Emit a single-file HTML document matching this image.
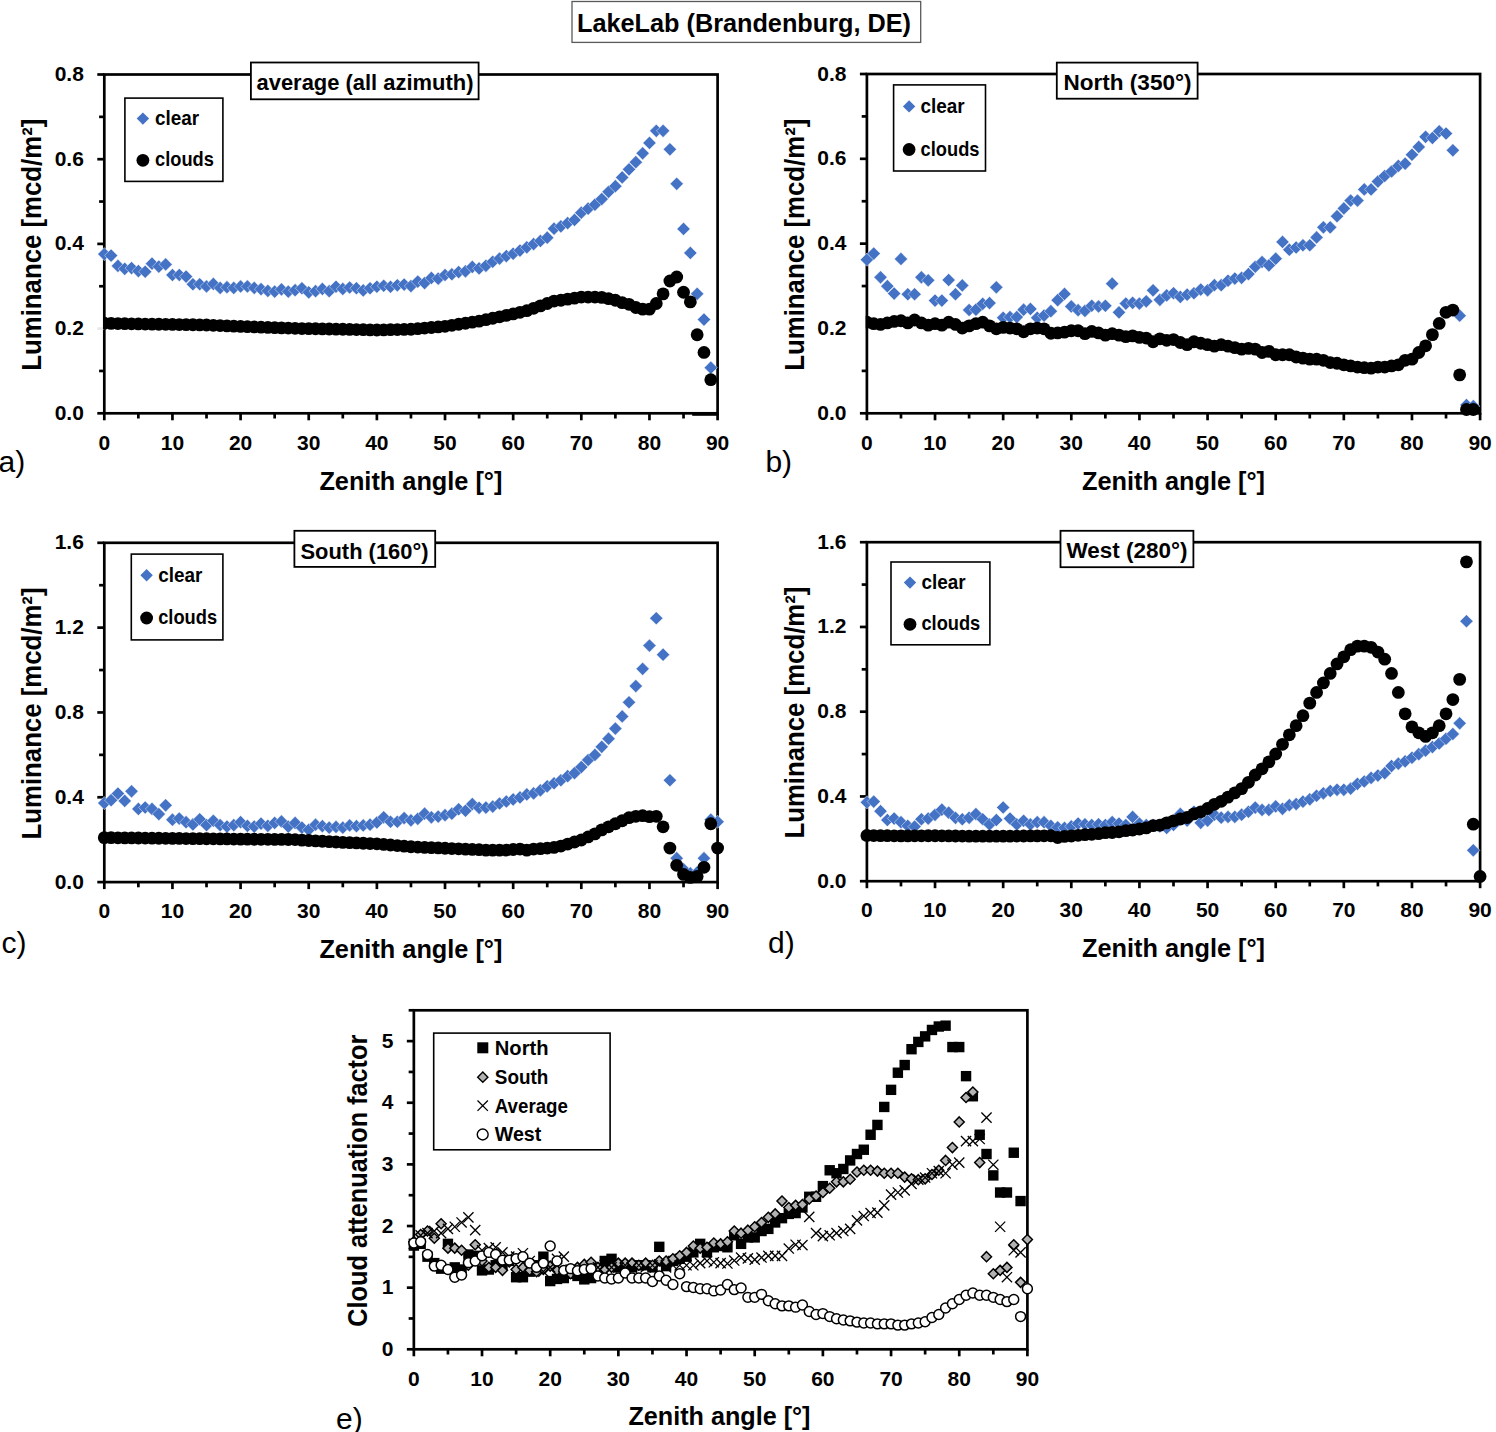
<!DOCTYPE html><html><head><meta charset="utf-8"><style>html,body{margin:0;padding:0;background:#fff;overflow:hidden}svg{display:block}</style></head><body><svg width="1496" height="1432" viewBox="0 0 1496 1432">
<rect width="1496" height="1432" fill="#fff"/>
<defs><clipPath id="clipa"><rect x="103.1" y="0" width="700" height="1432"/></clipPath><clipPath id="clipb"><rect x="865.7" y="0" width="700" height="1432"/></clipPath></defs>
<rect x="572" y="1.5" width="348.7" height="40.9" fill="#fff" stroke="#595959" stroke-width="1.3"/>
<text x="577" y="31.7" font-family="Liberation Sans, sans-serif" font-weight="bold" font-size="25.7" textLength="334" lengthAdjust="spacingAndGlyphs">LakeLab (Brandenburg, DE)</text>
<rect x="104.3" y="74.5" width="613.3" height="338.8" fill="none" stroke="#000" stroke-width="2.7"/>
<line x1="104.3" y1="413.3" x2="104.3" y2="420.3" stroke="#000" stroke-width="2.7"/>
<text x="104.3" y="449.5" font-family="Liberation Sans, sans-serif" font-weight="bold" font-size="21" text-anchor="middle">0</text>
<line x1="138.37" y1="413.3" x2="138.37" y2="418.5" stroke="#000" stroke-width="2.7"/>
<line x1="172.44" y1="413.3" x2="172.44" y2="420.3" stroke="#000" stroke-width="2.7"/>
<text x="172.44" y="449.5" font-family="Liberation Sans, sans-serif" font-weight="bold" font-size="21" text-anchor="middle">10</text>
<line x1="206.52" y1="413.3" x2="206.52" y2="418.5" stroke="#000" stroke-width="2.7"/>
<line x1="240.59" y1="413.3" x2="240.59" y2="420.3" stroke="#000" stroke-width="2.7"/>
<text x="240.59" y="449.5" font-family="Liberation Sans, sans-serif" font-weight="bold" font-size="21" text-anchor="middle">20</text>
<line x1="274.66" y1="413.3" x2="274.66" y2="418.5" stroke="#000" stroke-width="2.7"/>
<line x1="308.73" y1="413.3" x2="308.73" y2="420.3" stroke="#000" stroke-width="2.7"/>
<text x="308.73" y="449.5" font-family="Liberation Sans, sans-serif" font-weight="bold" font-size="21" text-anchor="middle">30</text>
<line x1="342.81" y1="413.3" x2="342.81" y2="418.5" stroke="#000" stroke-width="2.7"/>
<line x1="376.88" y1="413.3" x2="376.88" y2="420.3" stroke="#000" stroke-width="2.7"/>
<text x="376.88" y="449.5" font-family="Liberation Sans, sans-serif" font-weight="bold" font-size="21" text-anchor="middle">40</text>
<line x1="410.95" y1="413.3" x2="410.95" y2="418.5" stroke="#000" stroke-width="2.7"/>
<line x1="445.02" y1="413.3" x2="445.02" y2="420.3" stroke="#000" stroke-width="2.7"/>
<text x="445.02" y="449.5" font-family="Liberation Sans, sans-serif" font-weight="bold" font-size="21" text-anchor="middle">50</text>
<line x1="479.09" y1="413.3" x2="479.09" y2="418.5" stroke="#000" stroke-width="2.7"/>
<line x1="513.17" y1="413.3" x2="513.17" y2="420.3" stroke="#000" stroke-width="2.7"/>
<text x="513.17" y="449.5" font-family="Liberation Sans, sans-serif" font-weight="bold" font-size="21" text-anchor="middle">60</text>
<line x1="547.24" y1="413.3" x2="547.24" y2="418.5" stroke="#000" stroke-width="2.7"/>
<line x1="581.31" y1="413.3" x2="581.31" y2="420.3" stroke="#000" stroke-width="2.7"/>
<text x="581.31" y="449.5" font-family="Liberation Sans, sans-serif" font-weight="bold" font-size="21" text-anchor="middle">70</text>
<line x1="615.38" y1="413.3" x2="615.38" y2="418.5" stroke="#000" stroke-width="2.7"/>
<line x1="649.46" y1="413.3" x2="649.46" y2="420.3" stroke="#000" stroke-width="2.7"/>
<text x="649.46" y="449.5" font-family="Liberation Sans, sans-serif" font-weight="bold" font-size="21" text-anchor="middle">80</text>
<line x1="683.53" y1="413.3" x2="683.53" y2="418.5" stroke="#000" stroke-width="2.7"/>
<line x1="717.6" y1="413.3" x2="717.6" y2="420.3" stroke="#000" stroke-width="2.7"/>
<text x="717.6" y="449.5" font-family="Liberation Sans, sans-serif" font-weight="bold" font-size="21" text-anchor="middle">90</text>
<line x1="97.3" y1="413.3" x2="104.3" y2="413.3" stroke="#000" stroke-width="2.7"/>
<text x="83.9" y="419.8" font-family="Liberation Sans, sans-serif" font-weight="bold" font-size="21" text-anchor="end">0.0</text>
<line x1="99.1" y1="370.95" x2="104.3" y2="370.95" stroke="#000" stroke-width="2.7"/>
<line x1="97.3" y1="328.6" x2="104.3" y2="328.6" stroke="#e8e8e8" stroke-width="2.7"/>
<text x="83.9" y="335.1" font-family="Liberation Sans, sans-serif" font-weight="bold" font-size="21" text-anchor="end">0.2</text>
<line x1="99.1" y1="286.25" x2="104.3" y2="286.25" stroke="#000" stroke-width="2.7"/>
<line x1="97.3" y1="243.9" x2="104.3" y2="243.9" stroke="#000" stroke-width="2.7"/>
<text x="83.9" y="250.4" font-family="Liberation Sans, sans-serif" font-weight="bold" font-size="21" text-anchor="end">0.4</text>
<line x1="99.1" y1="201.55" x2="104.3" y2="201.55" stroke="#000" stroke-width="2.7"/>
<line x1="97.3" y1="159.2" x2="104.3" y2="159.2" stroke="#000" stroke-width="2.7"/>
<text x="83.9" y="165.7" font-family="Liberation Sans, sans-serif" font-weight="bold" font-size="21" text-anchor="end">0.6</text>
<line x1="99.1" y1="116.85" x2="104.3" y2="116.85" stroke="#000" stroke-width="2.7"/>
<line x1="97.3" y1="74.5" x2="104.3" y2="74.5" stroke="#000" stroke-width="2.7"/>
<text x="83.9" y="81" font-family="Liberation Sans, sans-serif" font-weight="bold" font-size="21" text-anchor="end">0.8</text>
<path d="M104.3 247.52L110.9 254.12L104.3 260.72L97.7 254.12Z" fill="#4472C4" stroke="#fff" stroke-width="0.45"/>
<path d="M111.11 248.99L117.71 255.59L111.11 262.19L104.51 255.59Z" fill="#4472C4" stroke="#fff" stroke-width="0.45"/>
<path d="M117.93 259.28L124.53 265.88L117.93 272.48L111.33 265.88Z" fill="#4472C4" stroke="#fff" stroke-width="0.45"/>
<path d="M124.74 262.22L131.34 268.82L124.74 275.42L118.14 268.82Z" fill="#4472C4" stroke="#fff" stroke-width="0.45"/>
<path d="M131.56 261.49L138.16 268.09L131.56 274.69L124.96 268.09Z" fill="#4472C4" stroke="#fff" stroke-width="0.45"/>
<path d="M138.37 264.43L144.97 271.03L138.37 277.63L131.77 271.03Z" fill="#4472C4" stroke="#fff" stroke-width="0.45"/>
<path d="M145.19 265.16L151.79 271.76L145.19 278.36L138.59 271.76Z" fill="#4472C4" stroke="#fff" stroke-width="0.45"/>
<path d="M152 257.08L158.6 263.68L152 270.28L145.4 263.68Z" fill="#4472C4" stroke="#fff" stroke-width="0.45"/>
<path d="M158.82 260.02L165.42 266.62L158.82 273.22L152.22 266.62Z" fill="#4472C4" stroke="#fff" stroke-width="0.45"/>
<path d="M165.63 257.81L172.23 264.41L165.63 271.01L159.03 264.41Z" fill="#4472C4" stroke="#fff" stroke-width="0.45"/>
<path d="M172.44 268.4L179.04 275L172.44 281.6L165.84 275Z" fill="#4472C4" stroke="#fff" stroke-width="0.45"/>
<path d="M179.26 268.4L185.86 275L179.26 281.6L172.66 275Z" fill="#4472C4" stroke="#fff" stroke-width="0.45"/>
<path d="M186.07 270.02L192.67 276.62L186.07 283.22L179.47 276.62Z" fill="#4472C4" stroke="#fff" stroke-width="0.45"/>
<path d="M192.89 277.66L199.49 284.26L192.89 290.86L186.29 284.26Z" fill="#4472C4" stroke="#fff" stroke-width="0.45"/>
<path d="M199.7 277.66L206.3 284.26L199.7 290.86L193.1 284.26Z" fill="#4472C4" stroke="#fff" stroke-width="0.45"/>
<path d="M206.52 279.87L213.12 286.47L206.52 293.07L199.92 286.47Z" fill="#4472C4" stroke="#fff" stroke-width="0.45"/>
<path d="M213.33 277.37L219.93 283.97L213.33 290.57L206.73 283.97Z" fill="#4472C4" stroke="#fff" stroke-width="0.45"/>
<path d="M220.15 281.34L226.75 287.94L220.15 294.54L213.55 287.94Z" fill="#4472C4" stroke="#fff" stroke-width="0.45"/>
<path d="M226.96 280.61L233.56 287.21L226.96 293.81L220.36 287.21Z" fill="#4472C4" stroke="#fff" stroke-width="0.45"/>
<path d="M233.77 281.34L240.37 287.94L233.77 294.54L227.17 287.94Z" fill="#4472C4" stroke="#fff" stroke-width="0.45"/>
<path d="M240.59 279.87L247.19 286.47L240.59 293.07L233.99 286.47Z" fill="#4472C4" stroke="#fff" stroke-width="0.45"/>
<path d="M247.4 279.87L254 286.47L247.4 293.07L240.8 286.47Z" fill="#4472C4" stroke="#fff" stroke-width="0.45"/>
<path d="M254.22 281.34L260.82 287.94L254.22 294.54L247.62 287.94Z" fill="#4472C4" stroke="#fff" stroke-width="0.45"/>
<path d="M261.03 282.52L267.63 289.12L261.03 295.72L254.43 289.12Z" fill="#4472C4" stroke="#fff" stroke-width="0.45"/>
<path d="M267.85 284.28L274.45 290.88L267.85 297.48L261.25 290.88Z" fill="#4472C4" stroke="#fff" stroke-width="0.45"/>
<path d="M274.66 285.02L281.26 291.62L274.66 298.22L268.06 291.62Z" fill="#4472C4" stroke="#fff" stroke-width="0.45"/>
<path d="M281.48 282.81L288.08 289.41L281.48 296.01L274.88 289.41Z" fill="#4472C4" stroke="#fff" stroke-width="0.45"/>
<path d="M288.29 285.02L294.89 291.62L288.29 298.22L281.69 291.62Z" fill="#4472C4" stroke="#fff" stroke-width="0.45"/>
<path d="M295.1 283.55L301.7 290.15L295.1 296.75L288.5 290.15Z" fill="#4472C4" stroke="#fff" stroke-width="0.45"/>
<path d="M301.92 281.64L308.52 288.24L301.92 294.84L295.32 288.24Z" fill="#4472C4" stroke="#fff" stroke-width="0.45"/>
<path d="M308.73 285.75L315.33 292.35L308.73 298.95L302.13 292.35Z" fill="#4472C4" stroke="#fff" stroke-width="0.45"/>
<path d="M315.55 284.58L322.15 291.18L315.55 297.78L308.95 291.18Z" fill="#4472C4" stroke="#fff" stroke-width="0.45"/>
<path d="M322.36 282.37L328.96 288.97L322.36 295.57L315.76 288.97Z" fill="#4472C4" stroke="#fff" stroke-width="0.45"/>
<path d="M329.18 284.58L335.78 291.18L329.18 297.78L322.58 291.18Z" fill="#4472C4" stroke="#fff" stroke-width="0.45"/>
<path d="M335.99 280.16L342.59 286.76L335.99 293.36L329.39 286.76Z" fill="#4472C4" stroke="#fff" stroke-width="0.45"/>
<path d="M342.81 282.37L349.41 288.97L342.81 295.57L336.21 288.97Z" fill="#4472C4" stroke="#fff" stroke-width="0.45"/>
<path d="M349.62 280.9L356.22 287.5L349.62 294.1L343.02 287.5Z" fill="#4472C4" stroke="#fff" stroke-width="0.45"/>
<path d="M356.43 281.64L363.03 288.24L356.43 294.84L349.83 288.24Z" fill="#4472C4" stroke="#fff" stroke-width="0.45"/>
<path d="M363.25 283.84L369.85 290.44L363.25 297.04L356.65 290.44Z" fill="#4472C4" stroke="#fff" stroke-width="0.45"/>
<path d="M370.06 281.64L376.66 288.24L370.06 294.84L363.46 288.24Z" fill="#4472C4" stroke="#fff" stroke-width="0.45"/>
<path d="M376.88 280.16L383.48 286.76L376.88 293.36L370.28 286.76Z" fill="#4472C4" stroke="#fff" stroke-width="0.45"/>
<path d="M383.69 279.14L390.29 285.74L383.69 292.34L377.09 285.74Z" fill="#4472C4" stroke="#fff" stroke-width="0.45"/>
<path d="M390.51 280.16L397.11 286.76L390.51 293.36L383.91 286.76Z" fill="#4472C4" stroke="#fff" stroke-width="0.45"/>
<path d="M397.32 278.69L403.92 285.29L397.32 291.89L390.72 285.29Z" fill="#4472C4" stroke="#fff" stroke-width="0.45"/>
<path d="M404.14 277.96L410.74 284.56L404.14 291.16L397.54 284.56Z" fill="#4472C4" stroke="#fff" stroke-width="0.45"/>
<path d="M410.95 279.43L417.55 286.03L410.95 292.63L404.35 286.03Z" fill="#4472C4" stroke="#fff" stroke-width="0.45"/>
<path d="M417.76 275.02L424.36 281.62L417.76 288.22L411.16 281.62Z" fill="#4472C4" stroke="#fff" stroke-width="0.45"/>
<path d="M424.58 276.49L431.18 283.09L424.58 289.69L417.98 283.09Z" fill="#4472C4" stroke="#fff" stroke-width="0.45"/>
<path d="M431.39 271.34L437.99 277.94L431.39 284.54L424.79 277.94Z" fill="#4472C4" stroke="#fff" stroke-width="0.45"/>
<path d="M438.21 272.08L444.81 278.68L438.21 285.28L431.61 278.68Z" fill="#4472C4" stroke="#fff" stroke-width="0.45"/>
<path d="M445.02 268.4L451.62 275L445.02 281.6L438.42 275Z" fill="#4472C4" stroke="#fff" stroke-width="0.45"/>
<path d="M451.84 267.66L458.44 274.26L451.84 280.86L445.24 274.26Z" fill="#4472C4" stroke="#fff" stroke-width="0.45"/>
<path d="M458.65 265.46L465.25 272.06L458.65 278.66L452.05 272.06Z" fill="#4472C4" stroke="#fff" stroke-width="0.45"/>
<path d="M465.47 264.72L472.07 271.32L465.47 277.92L458.87 271.32Z" fill="#4472C4" stroke="#fff" stroke-width="0.45"/>
<path d="M472.28 260.31L478.88 266.91L472.28 273.51L465.68 266.91Z" fill="#4472C4" stroke="#fff" stroke-width="0.45"/>
<path d="M479.09 261.78L485.69 268.38L479.09 274.98L472.49 268.38Z" fill="#4472C4" stroke="#fff" stroke-width="0.45"/>
<path d="M485.91 259.18L492.51 265.78L485.91 272.38L479.31 265.78Z" fill="#4472C4" stroke="#fff" stroke-width="0.45"/>
<path d="M492.72 255.17L499.32 261.77L492.72 268.37L486.12 261.77Z" fill="#4472C4" stroke="#fff" stroke-width="0.45"/>
<path d="M499.54 251.96L506.14 258.56L499.54 265.16L492.94 258.56Z" fill="#4472C4" stroke="#fff" stroke-width="0.45"/>
<path d="M506.35 249.55L512.95 256.15L506.35 262.75L499.75 256.15Z" fill="#4472C4" stroke="#fff" stroke-width="0.45"/>
<path d="M513.17 247.15L519.77 253.75L513.17 260.35L506.57 253.75Z" fill="#4472C4" stroke="#fff" stroke-width="0.45"/>
<path d="M519.98 243.94L526.58 250.54L519.98 257.14L513.38 250.54Z" fill="#4472C4" stroke="#fff" stroke-width="0.45"/>
<path d="M526.8 240.73L533.4 247.33L526.8 253.93L520.2 247.33Z" fill="#4472C4" stroke="#fff" stroke-width="0.45"/>
<path d="M533.61 237.52L540.21 244.12L533.61 250.72L527.01 244.12Z" fill="#4472C4" stroke="#fff" stroke-width="0.45"/>
<path d="M540.42 234.31L547.02 240.91L540.42 247.51L533.82 240.91Z" fill="#4472C4" stroke="#fff" stroke-width="0.45"/>
<path d="M547.24 231.1L553.84 237.7L547.24 244.3L540.64 237.7Z" fill="#4472C4" stroke="#fff" stroke-width="0.45"/>
<path d="M554.05 222.12L560.65 228.72L554.05 235.32L547.45 228.72Z" fill="#4472C4" stroke="#fff" stroke-width="0.45"/>
<path d="M560.87 219.72L567.47 226.32L560.87 232.92L554.27 226.32Z" fill="#4472C4" stroke="#fff" stroke-width="0.45"/>
<path d="M567.68 216.51L574.28 223.11L567.68 229.71L561.08 223.11Z" fill="#4472C4" stroke="#fff" stroke-width="0.45"/>
<path d="M574.5 213.3L581.1 219.9L574.5 226.5L567.9 219.9Z" fill="#4472C4" stroke="#fff" stroke-width="0.45"/>
<path d="M581.31 206.08L587.91 212.68L581.31 219.28L574.71 212.68Z" fill="#4472C4" stroke="#fff" stroke-width="0.45"/>
<path d="M588.13 202.07L594.73 208.67L588.13 215.27L581.53 208.67Z" fill="#4472C4" stroke="#fff" stroke-width="0.45"/>
<path d="M594.94 198.06L601.54 204.66L594.94 211.26L588.34 204.66Z" fill="#4472C4" stroke="#fff" stroke-width="0.45"/>
<path d="M601.75 192.44L608.35 199.04L601.75 205.64L595.15 199.04Z" fill="#4472C4" stroke="#fff" stroke-width="0.45"/>
<path d="M608.57 185.22L615.17 191.82L608.57 198.42L601.97 191.82Z" fill="#4472C4" stroke="#fff" stroke-width="0.45"/>
<path d="M615.38 179.61L621.98 186.21L615.38 192.81L608.78 186.21Z" fill="#4472C4" stroke="#fff" stroke-width="0.45"/>
<path d="M622.2 170.78L628.8 177.38L622.2 183.98L615.6 177.38Z" fill="#4472C4" stroke="#fff" stroke-width="0.45"/>
<path d="M629.01 162.76L635.61 169.36L629.01 175.96L622.41 169.36Z" fill="#4472C4" stroke="#fff" stroke-width="0.45"/>
<path d="M635.83 155.54L642.43 162.14L635.83 168.74L629.23 162.14Z" fill="#4472C4" stroke="#fff" stroke-width="0.45"/>
<path d="M642.64 146.72L649.24 153.32L642.64 159.92L636.04 153.32Z" fill="#4472C4" stroke="#fff" stroke-width="0.45"/>
<path d="M649.46 136.29L656.06 142.89L649.46 149.49L642.86 142.89Z" fill="#4472C4" stroke="#fff" stroke-width="0.45"/>
<path d="M656.27 124.26L662.87 130.86L656.27 137.46L649.67 130.86Z" fill="#4472C4" stroke="#fff" stroke-width="0.45"/>
<path d="M663.08 124.26L669.68 130.86L663.08 137.46L656.48 130.86Z" fill="#4472C4" stroke="#fff" stroke-width="0.45"/>
<path d="M669.9 142.71L676.5 149.31L669.9 155.91L663.3 149.31Z" fill="#4472C4" stroke="#fff" stroke-width="0.45"/>
<path d="M676.71 177.2L683.31 183.8L676.71 190.4L670.11 183.8Z" fill="#4472C4" stroke="#fff" stroke-width="0.45"/>
<path d="M683.53 222.28L690.13 228.88L683.53 235.48L676.93 228.88Z" fill="#4472C4" stroke="#fff" stroke-width="0.45"/>
<path d="M690.34 246.34L696.94 252.94L690.34 259.54L683.74 252.94Z" fill="#4472C4" stroke="#fff" stroke-width="0.45"/>
<path d="M697.16 287.26L703.76 293.86L697.16 300.46L690.56 293.86Z" fill="#4472C4" stroke="#fff" stroke-width="0.45"/>
<path d="M703.97 312.93L710.57 319.53L703.97 326.13L697.37 319.53Z" fill="#4472C4" stroke="#fff" stroke-width="0.45"/>
<path d="M710.79 361.06L717.39 367.66L710.79 374.26L704.19 367.66Z" fill="#4472C4" stroke="#fff" stroke-width="0.45"/>
<g clip-path="url(#clipa)"><circle cx="104.3" cy="323.24" r="6.4" fill="#000" stroke="none" stroke-width="0"/></g>
<circle cx="111.11" cy="323.38" r="6.4" fill="#000" stroke="none" stroke-width="0"/>
<circle cx="117.93" cy="323.53" r="6.4" fill="#000" stroke="none" stroke-width="0"/>
<circle cx="124.74" cy="323.68" r="6.4" fill="#000" stroke="none" stroke-width="0"/>
<circle cx="131.56" cy="323.82" r="6.4" fill="#000" stroke="none" stroke-width="0"/>
<circle cx="138.37" cy="323.97" r="6.4" fill="#000" stroke="none" stroke-width="0"/>
<circle cx="145.19" cy="324.06" r="6.4" fill="#000" stroke="none" stroke-width="0"/>
<circle cx="152" cy="324.15" r="6.4" fill="#000" stroke="none" stroke-width="0"/>
<circle cx="158.82" cy="324.24" r="6.4" fill="#000" stroke="none" stroke-width="0"/>
<circle cx="165.63" cy="324.32" r="6.4" fill="#000" stroke="none" stroke-width="0"/>
<circle cx="172.44" cy="324.41" r="6.4" fill="#000" stroke="none" stroke-width="0"/>
<circle cx="179.26" cy="324.53" r="6.4" fill="#000" stroke="none" stroke-width="0"/>
<circle cx="186.07" cy="324.65" r="6.4" fill="#000" stroke="none" stroke-width="0"/>
<circle cx="192.89" cy="324.76" r="6.4" fill="#000" stroke="none" stroke-width="0"/>
<circle cx="199.7" cy="324.88" r="6.4" fill="#000" stroke="none" stroke-width="0"/>
<circle cx="206.52" cy="325" r="6.4" fill="#000" stroke="none" stroke-width="0"/>
<circle cx="213.33" cy="325.29" r="6.4" fill="#000" stroke="none" stroke-width="0"/>
<circle cx="220.15" cy="325.59" r="6.4" fill="#000" stroke="none" stroke-width="0"/>
<circle cx="226.96" cy="325.88" r="6.4" fill="#000" stroke="none" stroke-width="0"/>
<circle cx="233.77" cy="326.18" r="6.4" fill="#000" stroke="none" stroke-width="0"/>
<circle cx="240.59" cy="326.47" r="6.4" fill="#000" stroke="none" stroke-width="0"/>
<circle cx="247.4" cy="326.71" r="6.4" fill="#000" stroke="none" stroke-width="0"/>
<circle cx="254.22" cy="326.94" r="6.4" fill="#000" stroke="none" stroke-width="0"/>
<circle cx="261.03" cy="327.18" r="6.4" fill="#000" stroke="none" stroke-width="0"/>
<circle cx="267.85" cy="327.41" r="6.4" fill="#000" stroke="none" stroke-width="0"/>
<circle cx="274.66" cy="327.65" r="6.4" fill="#000" stroke="none" stroke-width="0"/>
<circle cx="281.48" cy="327.87" r="6.4" fill="#000" stroke="none" stroke-width="0"/>
<circle cx="288.29" cy="328.09" r="6.4" fill="#000" stroke="none" stroke-width="0"/>
<circle cx="295.1" cy="328.31" r="6.4" fill="#000" stroke="none" stroke-width="0"/>
<circle cx="301.92" cy="328.53" r="6.4" fill="#000" stroke="none" stroke-width="0"/>
<circle cx="308.73" cy="328.65" r="6.4" fill="#000" stroke="none" stroke-width="0"/>
<circle cx="315.55" cy="328.77" r="6.4" fill="#000" stroke="none" stroke-width="0"/>
<circle cx="322.36" cy="328.9" r="6.4" fill="#000" stroke="none" stroke-width="0"/>
<circle cx="329.18" cy="329.02" r="6.4" fill="#000" stroke="none" stroke-width="0"/>
<circle cx="335.99" cy="329.14" r="6.4" fill="#000" stroke="none" stroke-width="0"/>
<circle cx="342.81" cy="329.26" r="6.4" fill="#000" stroke="none" stroke-width="0"/>
<circle cx="349.62" cy="329.41" r="6.4" fill="#000" stroke="none" stroke-width="0"/>
<circle cx="356.43" cy="329.56" r="6.4" fill="#000" stroke="none" stroke-width="0"/>
<circle cx="363.25" cy="329.71" r="6.4" fill="#000" stroke="none" stroke-width="0"/>
<circle cx="370.06" cy="329.85" r="6.4" fill="#000" stroke="none" stroke-width="0"/>
<circle cx="376.88" cy="330" r="6.4" fill="#000" stroke="none" stroke-width="0"/>
<circle cx="383.69" cy="329.85" r="6.4" fill="#000" stroke="none" stroke-width="0"/>
<circle cx="390.51" cy="329.71" r="6.4" fill="#000" stroke="none" stroke-width="0"/>
<circle cx="397.32" cy="329.56" r="6.4" fill="#000" stroke="none" stroke-width="0"/>
<circle cx="404.14" cy="329.41" r="6.4" fill="#000" stroke="none" stroke-width="0"/>
<circle cx="410.95" cy="329.26" r="6.4" fill="#000" stroke="none" stroke-width="0"/>
<circle cx="417.76" cy="328.68" r="6.4" fill="#000" stroke="none" stroke-width="0"/>
<circle cx="424.58" cy="328.09" r="6.4" fill="#000" stroke="none" stroke-width="0"/>
<circle cx="431.39" cy="327.5" r="6.4" fill="#000" stroke="none" stroke-width="0"/>
<circle cx="438.21" cy="326.91" r="6.4" fill="#000" stroke="none" stroke-width="0"/>
<circle cx="445.02" cy="326.32" r="6.4" fill="#000" stroke="none" stroke-width="0"/>
<circle cx="451.84" cy="325.29" r="6.4" fill="#000" stroke="none" stroke-width="0"/>
<circle cx="458.65" cy="324.26" r="6.4" fill="#000" stroke="none" stroke-width="0"/>
<circle cx="465.47" cy="323.24" r="6.4" fill="#000" stroke="none" stroke-width="0"/>
<circle cx="472.28" cy="322.21" r="6.4" fill="#000" stroke="none" stroke-width="0"/>
<circle cx="479.09" cy="321.18" r="6.4" fill="#000" stroke="none" stroke-width="0"/>
<circle cx="485.91" cy="319.72" r="6.4" fill="#000" stroke="none" stroke-width="0"/>
<circle cx="492.72" cy="318.27" r="6.4" fill="#000" stroke="none" stroke-width="0"/>
<circle cx="499.54" cy="316.82" r="6.4" fill="#000" stroke="none" stroke-width="0"/>
<circle cx="506.35" cy="315.36" r="6.4" fill="#000" stroke="none" stroke-width="0"/>
<circle cx="513.17" cy="313.91" r="6.4" fill="#000" stroke="none" stroke-width="0"/>
<circle cx="519.98" cy="312.31" r="6.4" fill="#000" stroke="none" stroke-width="0"/>
<circle cx="526.8" cy="310.7" r="6.4" fill="#000" stroke="none" stroke-width="0"/>
<circle cx="533.61" cy="308.29" r="6.4" fill="#000" stroke="none" stroke-width="0"/>
<circle cx="540.42" cy="305.89" r="6.4" fill="#000" stroke="none" stroke-width="0"/>
<circle cx="547.24" cy="303.48" r="6.4" fill="#000" stroke="none" stroke-width="0"/>
<circle cx="554.05" cy="301.07" r="6.4" fill="#000" stroke="none" stroke-width="0"/>
<circle cx="560.87" cy="300.27" r="6.4" fill="#000" stroke="none" stroke-width="0"/>
<circle cx="567.68" cy="299.15" r="6.4" fill="#000" stroke="none" stroke-width="0"/>
<circle cx="574.5" cy="298.19" r="6.4" fill="#000" stroke="none" stroke-width="0"/>
<circle cx="581.31" cy="297.06" r="6.4" fill="#000" stroke="none" stroke-width="0"/>
<circle cx="588.13" cy="297.06" r="6.4" fill="#000" stroke="none" stroke-width="0"/>
<circle cx="594.94" cy="297.06" r="6.4" fill="#000" stroke="none" stroke-width="0"/>
<circle cx="601.75" cy="297.38" r="6.4" fill="#000" stroke="none" stroke-width="0"/>
<circle cx="608.57" cy="298.67" r="6.4" fill="#000" stroke="none" stroke-width="0"/>
<circle cx="615.38" cy="300.27" r="6.4" fill="#000" stroke="none" stroke-width="0"/>
<circle cx="622.2" cy="302.68" r="6.4" fill="#000" stroke="none" stroke-width="0"/>
<circle cx="629.01" cy="304.28" r="6.4" fill="#000" stroke="none" stroke-width="0"/>
<circle cx="635.83" cy="307.49" r="6.4" fill="#000" stroke="none" stroke-width="0"/>
<circle cx="642.64" cy="309.1" r="6.4" fill="#000" stroke="none" stroke-width="0"/>
<circle cx="649.46" cy="309.1" r="6.4" fill="#000" stroke="none" stroke-width="0"/>
<circle cx="656.27" cy="303.48" r="6.4" fill="#000" stroke="none" stroke-width="0"/>
<circle cx="663.08" cy="293.86" r="6.4" fill="#000" stroke="none" stroke-width="0"/>
<circle cx="669.9" cy="281.02" r="6.4" fill="#000" stroke="none" stroke-width="0"/>
<circle cx="676.71" cy="277.01" r="6.4" fill="#000" stroke="none" stroke-width="0"/>
<circle cx="683.53" cy="292.25" r="6.4" fill="#000" stroke="none" stroke-width="0"/>
<circle cx="690.34" cy="301.88" r="6.4" fill="#000" stroke="none" stroke-width="0"/>
<circle cx="697.16" cy="334.77" r="6.4" fill="#000" stroke="none" stroke-width="0"/>
<circle cx="703.97" cy="352.41" r="6.4" fill="#000" stroke="none" stroke-width="0"/>
<circle cx="710.79" cy="379.69" r="6.4" fill="#000" stroke="none" stroke-width="0"/>
<rect x="866.9" y="74" width="613.2" height="339.3" fill="none" stroke="#000" stroke-width="2.7"/>
<line x1="866.9" y1="413.3" x2="866.9" y2="420.3" stroke="#000" stroke-width="2.7"/>
<text x="866.9" y="449.5" font-family="Liberation Sans, sans-serif" font-weight="bold" font-size="21" text-anchor="middle">0</text>
<line x1="900.97" y1="413.3" x2="900.97" y2="418.5" stroke="#000" stroke-width="2.7"/>
<line x1="935.03" y1="413.3" x2="935.03" y2="420.3" stroke="#000" stroke-width="2.7"/>
<text x="935.03" y="449.5" font-family="Liberation Sans, sans-serif" font-weight="bold" font-size="21" text-anchor="middle">10</text>
<line x1="969.1" y1="413.3" x2="969.1" y2="418.5" stroke="#000" stroke-width="2.7"/>
<line x1="1003.17" y1="413.3" x2="1003.17" y2="420.3" stroke="#000" stroke-width="2.7"/>
<text x="1003.17" y="449.5" font-family="Liberation Sans, sans-serif" font-weight="bold" font-size="21" text-anchor="middle">20</text>
<line x1="1037.23" y1="413.3" x2="1037.23" y2="418.5" stroke="#000" stroke-width="2.7"/>
<line x1="1071.3" y1="413.3" x2="1071.3" y2="420.3" stroke="#000" stroke-width="2.7"/>
<text x="1071.3" y="449.5" font-family="Liberation Sans, sans-serif" font-weight="bold" font-size="21" text-anchor="middle">30</text>
<line x1="1105.37" y1="413.3" x2="1105.37" y2="418.5" stroke="#000" stroke-width="2.7"/>
<line x1="1139.43" y1="413.3" x2="1139.43" y2="420.3" stroke="#000" stroke-width="2.7"/>
<text x="1139.43" y="449.5" font-family="Liberation Sans, sans-serif" font-weight="bold" font-size="21" text-anchor="middle">40</text>
<line x1="1173.5" y1="413.3" x2="1173.5" y2="418.5" stroke="#000" stroke-width="2.7"/>
<line x1="1207.57" y1="413.3" x2="1207.57" y2="420.3" stroke="#000" stroke-width="2.7"/>
<text x="1207.57" y="449.5" font-family="Liberation Sans, sans-serif" font-weight="bold" font-size="21" text-anchor="middle">50</text>
<line x1="1241.63" y1="413.3" x2="1241.63" y2="418.5" stroke="#000" stroke-width="2.7"/>
<line x1="1275.7" y1="413.3" x2="1275.7" y2="420.3" stroke="#000" stroke-width="2.7"/>
<text x="1275.7" y="449.5" font-family="Liberation Sans, sans-serif" font-weight="bold" font-size="21" text-anchor="middle">60</text>
<line x1="1309.77" y1="413.3" x2="1309.77" y2="418.5" stroke="#000" stroke-width="2.7"/>
<line x1="1343.83" y1="413.3" x2="1343.83" y2="420.3" stroke="#000" stroke-width="2.7"/>
<text x="1343.83" y="449.5" font-family="Liberation Sans, sans-serif" font-weight="bold" font-size="21" text-anchor="middle">70</text>
<line x1="1377.9" y1="413.3" x2="1377.9" y2="418.5" stroke="#000" stroke-width="2.7"/>
<line x1="1411.97" y1="413.3" x2="1411.97" y2="420.3" stroke="#000" stroke-width="2.7"/>
<text x="1411.97" y="449.5" font-family="Liberation Sans, sans-serif" font-weight="bold" font-size="21" text-anchor="middle">80</text>
<line x1="1446.03" y1="413.3" x2="1446.03" y2="418.5" stroke="#000" stroke-width="2.7"/>
<line x1="1480.1" y1="413.3" x2="1480.1" y2="420.3" stroke="#000" stroke-width="2.7"/>
<text x="1480.1" y="449.5" font-family="Liberation Sans, sans-serif" font-weight="bold" font-size="21" text-anchor="middle">90</text>
<line x1="859.9" y1="413.3" x2="866.9" y2="413.3" stroke="#000" stroke-width="2.7"/>
<text x="846.5" y="419.8" font-family="Liberation Sans, sans-serif" font-weight="bold" font-size="21" text-anchor="end">0.0</text>
<line x1="861.7" y1="370.89" x2="866.9" y2="370.89" stroke="#000" stroke-width="2.7"/>
<line x1="859.9" y1="328.48" x2="866.9" y2="328.48" stroke="none" stroke-width="2.7"/>
<text x="846.5" y="334.98" font-family="Liberation Sans, sans-serif" font-weight="bold" font-size="21" text-anchor="end">0.2</text>
<line x1="861.7" y1="286.06" x2="866.9" y2="286.06" stroke="#000" stroke-width="2.7"/>
<line x1="859.9" y1="243.65" x2="866.9" y2="243.65" stroke="#000" stroke-width="2.7"/>
<text x="846.5" y="250.15" font-family="Liberation Sans, sans-serif" font-weight="bold" font-size="21" text-anchor="end">0.4</text>
<line x1="861.7" y1="201.24" x2="866.9" y2="201.24" stroke="#000" stroke-width="2.7"/>
<line x1="859.9" y1="158.82" x2="866.9" y2="158.82" stroke="#000" stroke-width="2.7"/>
<text x="846.5" y="165.32" font-family="Liberation Sans, sans-serif" font-weight="bold" font-size="21" text-anchor="end">0.6</text>
<line x1="861.7" y1="116.41" x2="866.9" y2="116.41" stroke="#000" stroke-width="2.7"/>
<line x1="859.9" y1="74" x2="866.9" y2="74" stroke="#000" stroke-width="2.7"/>
<text x="846.5" y="80.5" font-family="Liberation Sans, sans-serif" font-weight="bold" font-size="21" text-anchor="end">0.8</text>
<path d="M866.9 253.11L873.5 259.71L866.9 266.31L860.3 259.71Z" fill="#4472C4" stroke="#fff" stroke-width="0.45"/>
<path d="M873.71 246.93L880.31 253.53L873.71 260.13L867.11 253.53Z" fill="#4472C4" stroke="#fff" stroke-width="0.45"/>
<path d="M880.53 270.75L887.13 277.35L880.53 283.95L873.93 277.35Z" fill="#4472C4" stroke="#fff" stroke-width="0.45"/>
<path d="M887.34 279.58L893.94 286.18L887.34 292.78L880.74 286.18Z" fill="#4472C4" stroke="#fff" stroke-width="0.45"/>
<path d="M894.15 286.93L900.75 293.53L894.15 300.13L887.55 293.53Z" fill="#4472C4" stroke="#fff" stroke-width="0.45"/>
<path d="M900.97 252.37L907.57 258.97L900.97 265.57L894.37 258.97Z" fill="#4472C4" stroke="#fff" stroke-width="0.45"/>
<path d="M907.78 287.66L914.38 294.26L907.78 300.86L901.18 294.26Z" fill="#4472C4" stroke="#fff" stroke-width="0.45"/>
<path d="M914.59 287.66L921.19 294.26L914.59 300.86L907.99 294.26Z" fill="#4472C4" stroke="#fff" stroke-width="0.45"/>
<path d="M921.41 270.75L928.01 277.35L921.41 283.95L914.81 277.35Z" fill="#4472C4" stroke="#fff" stroke-width="0.45"/>
<path d="M928.22 273.69L934.82 280.29L928.22 286.89L921.62 280.29Z" fill="#4472C4" stroke="#fff" stroke-width="0.45"/>
<path d="M935.03 293.99L941.63 300.59L935.03 307.19L928.43 300.59Z" fill="#4472C4" stroke="#fff" stroke-width="0.45"/>
<path d="M941.85 293.99L948.45 300.59L941.85 307.19L935.25 300.59Z" fill="#4472C4" stroke="#fff" stroke-width="0.45"/>
<path d="M948.66 273.4L955.26 280L948.66 286.6L942.06 280Z" fill="#4472C4" stroke="#fff" stroke-width="0.45"/>
<path d="M955.47 287.66L962.07 294.26L955.47 300.86L948.87 294.26Z" fill="#4472C4" stroke="#fff" stroke-width="0.45"/>
<path d="M962.29 278.84L968.89 285.44L962.29 292.04L955.69 285.44Z" fill="#4472C4" stroke="#fff" stroke-width="0.45"/>
<path d="M969.1 303.4L975.7 310L969.1 316.6L962.5 310Z" fill="#4472C4" stroke="#fff" stroke-width="0.45"/>
<path d="M975.91 303.11L982.51 309.71L975.91 316.31L969.31 309.71Z" fill="#4472C4" stroke="#fff" stroke-width="0.45"/>
<path d="M982.73 297.22L989.33 303.82L982.73 310.42L976.13 303.82Z" fill="#4472C4" stroke="#fff" stroke-width="0.45"/>
<path d="M989.54 296.49L996.14 303.09L989.54 309.69L982.94 303.09Z" fill="#4472C4" stroke="#fff" stroke-width="0.45"/>
<path d="M996.35 280.75L1002.95 287.35L996.35 293.95L989.75 287.35Z" fill="#4472C4" stroke="#fff" stroke-width="0.45"/>
<path d="M1003.17 311.19L1009.77 317.79L1003.17 324.39L996.57 317.79Z" fill="#4472C4" stroke="#fff" stroke-width="0.45"/>
<path d="M1009.98 310.46L1016.58 317.06L1009.98 323.66L1003.38 317.06Z" fill="#4472C4" stroke="#fff" stroke-width="0.45"/>
<path d="M1016.79 310.46L1023.39 317.06L1016.79 323.66L1010.19 317.06Z" fill="#4472C4" stroke="#fff" stroke-width="0.45"/>
<path d="M1023.61 303.11L1030.21 309.71L1023.61 316.31L1017.01 309.71Z" fill="#4472C4" stroke="#fff" stroke-width="0.45"/>
<path d="M1030.42 302.37L1037.02 308.97L1030.42 315.57L1023.82 308.97Z" fill="#4472C4" stroke="#fff" stroke-width="0.45"/>
<path d="M1037.23 311.19L1043.83 317.79L1037.23 324.39L1030.63 317.79Z" fill="#4472C4" stroke="#fff" stroke-width="0.45"/>
<path d="M1044.05 308.99L1050.65 315.59L1044.05 322.19L1037.45 315.59Z" fill="#4472C4" stroke="#fff" stroke-width="0.45"/>
<path d="M1050.86 304.58L1057.46 311.18L1050.86 317.78L1044.26 311.18Z" fill="#4472C4" stroke="#fff" stroke-width="0.45"/>
<path d="M1057.67 293.55L1064.27 300.15L1057.67 306.75L1051.07 300.15Z" fill="#4472C4" stroke="#fff" stroke-width="0.45"/>
<path d="M1064.49 287.37L1071.09 293.97L1064.49 300.57L1057.89 293.97Z" fill="#4472C4" stroke="#fff" stroke-width="0.45"/>
<path d="M1071.3 299.87L1077.9 306.47L1071.3 313.07L1064.7 306.47Z" fill="#4472C4" stroke="#fff" stroke-width="0.45"/>
<path d="M1078.11 303.55L1084.71 310.15L1078.11 316.75L1071.51 310.15Z" fill="#4472C4" stroke="#fff" stroke-width="0.45"/>
<path d="M1084.93 304.28L1091.53 310.88L1084.93 317.48L1078.33 310.88Z" fill="#4472C4" stroke="#fff" stroke-width="0.45"/>
<path d="M1091.74 299.14L1098.34 305.74L1091.74 312.34L1085.14 305.74Z" fill="#4472C4" stroke="#fff" stroke-width="0.45"/>
<path d="M1098.55 299.87L1105.15 306.47L1098.55 313.07L1091.95 306.47Z" fill="#4472C4" stroke="#fff" stroke-width="0.45"/>
<path d="M1105.37 299.14L1111.97 305.74L1105.37 312.34L1098.77 305.74Z" fill="#4472C4" stroke="#fff" stroke-width="0.45"/>
<path d="M1112.18 277.08L1118.78 283.68L1112.18 290.28L1105.58 283.68Z" fill="#4472C4" stroke="#fff" stroke-width="0.45"/>
<path d="M1118.99 305.75L1125.59 312.35L1118.99 318.95L1112.39 312.35Z" fill="#4472C4" stroke="#fff" stroke-width="0.45"/>
<path d="M1125.81 296.93L1132.41 303.53L1125.81 310.13L1119.21 303.53Z" fill="#4472C4" stroke="#fff" stroke-width="0.45"/>
<path d="M1132.62 296.19L1139.22 302.79L1132.62 309.39L1126.02 302.79Z" fill="#4472C4" stroke="#fff" stroke-width="0.45"/>
<path d="M1139.43 296.93L1146.03 303.53L1139.43 310.13L1132.83 303.53Z" fill="#4472C4" stroke="#fff" stroke-width="0.45"/>
<path d="M1146.25 294.72L1152.85 301.32L1146.25 307.92L1139.65 301.32Z" fill="#4472C4" stroke="#fff" stroke-width="0.45"/>
<path d="M1153.06 283.69L1159.66 290.29L1153.06 296.89L1146.46 290.29Z" fill="#4472C4" stroke="#fff" stroke-width="0.45"/>
<path d="M1159.87 293.25L1166.47 299.85L1159.87 306.45L1153.27 299.85Z" fill="#4472C4" stroke="#fff" stroke-width="0.45"/>
<path d="M1166.69 288.84L1173.29 295.44L1166.69 302.04L1160.09 295.44Z" fill="#4472C4" stroke="#fff" stroke-width="0.45"/>
<path d="M1173.5 286.64L1180.1 293.24L1173.5 299.84L1166.9 293.24Z" fill="#4472C4" stroke="#fff" stroke-width="0.45"/>
<path d="M1180.31 290.31L1186.91 296.91L1180.31 303.51L1173.71 296.91Z" fill="#4472C4" stroke="#fff" stroke-width="0.45"/>
<path d="M1187.13 288.11L1193.73 294.71L1187.13 301.31L1180.53 294.71Z" fill="#4472C4" stroke="#fff" stroke-width="0.45"/>
<path d="M1193.94 286.64L1200.54 293.24L1193.94 299.84L1187.34 293.24Z" fill="#4472C4" stroke="#fff" stroke-width="0.45"/>
<path d="M1200.75 282.96L1207.35 289.56L1200.75 296.16L1194.15 289.56Z" fill="#4472C4" stroke="#fff" stroke-width="0.45"/>
<path d="M1207.57 283.69L1214.17 290.29L1207.57 296.89L1200.97 290.29Z" fill="#4472C4" stroke="#fff" stroke-width="0.45"/>
<path d="M1214.38 278.55L1220.98 285.15L1214.38 291.75L1207.78 285.15Z" fill="#4472C4" stroke="#fff" stroke-width="0.45"/>
<path d="M1221.19 278.55L1227.79 285.15L1221.19 291.75L1214.59 285.15Z" fill="#4472C4" stroke="#fff" stroke-width="0.45"/>
<path d="M1228.01 274.14L1234.61 280.74L1228.01 287.34L1221.41 280.74Z" fill="#4472C4" stroke="#fff" stroke-width="0.45"/>
<path d="M1234.82 271.93L1241.42 278.53L1234.82 285.13L1228.22 278.53Z" fill="#4472C4" stroke="#fff" stroke-width="0.45"/>
<path d="M1241.63 271.19L1248.23 277.79L1241.63 284.39L1235.03 277.79Z" fill="#4472C4" stroke="#fff" stroke-width="0.45"/>
<path d="M1248.45 267.52L1255.05 274.12L1248.45 280.72L1241.85 274.12Z" fill="#4472C4" stroke="#fff" stroke-width="0.45"/>
<path d="M1255.26 260.16L1261.86 266.76L1255.26 273.36L1248.66 266.76Z" fill="#4472C4" stroke="#fff" stroke-width="0.45"/>
<path d="M1262.07 255.41L1268.67 262.01L1262.07 268.61L1255.47 262.01Z" fill="#4472C4" stroke="#fff" stroke-width="0.45"/>
<path d="M1268.89 258.76L1275.49 265.36L1268.89 271.96L1262.29 265.36Z" fill="#4472C4" stroke="#fff" stroke-width="0.45"/>
<path d="M1275.7 252.06L1282.3 258.66L1275.7 265.26L1269.1 258.66Z" fill="#4472C4" stroke="#fff" stroke-width="0.45"/>
<path d="M1282.51 235.3L1289.11 241.9L1282.51 248.5L1275.91 241.9Z" fill="#4472C4" stroke="#fff" stroke-width="0.45"/>
<path d="M1289.33 243.12L1295.93 249.72L1289.33 256.32L1282.73 249.72Z" fill="#4472C4" stroke="#fff" stroke-width="0.45"/>
<path d="M1296.14 240.89L1302.74 247.49L1296.14 254.09L1289.54 247.49Z" fill="#4472C4" stroke="#fff" stroke-width="0.45"/>
<path d="M1302.95 238.65L1309.55 245.25L1302.95 251.85L1296.35 245.25Z" fill="#4472C4" stroke="#fff" stroke-width="0.45"/>
<path d="M1309.77 238.65L1316.37 245.25L1309.77 251.85L1303.17 245.25Z" fill="#4472C4" stroke="#fff" stroke-width="0.45"/>
<path d="M1316.58 230.83L1323.18 237.43L1316.58 244.03L1309.98 237.43Z" fill="#4472C4" stroke="#fff" stroke-width="0.45"/>
<path d="M1323.39 220.77L1329.99 227.37L1323.39 233.97L1316.79 227.37Z" fill="#4472C4" stroke="#fff" stroke-width="0.45"/>
<path d="M1330.21 220.77L1336.81 227.37L1330.21 233.97L1323.61 227.37Z" fill="#4472C4" stroke="#fff" stroke-width="0.45"/>
<path d="M1337.02 209.6L1343.62 216.2L1337.02 222.8L1330.42 216.2Z" fill="#4472C4" stroke="#fff" stroke-width="0.45"/>
<path d="M1343.83 201.78L1350.43 208.38L1343.83 214.98L1337.23 208.38Z" fill="#4472C4" stroke="#fff" stroke-width="0.45"/>
<path d="M1350.65 193.96L1357.25 200.56L1350.65 207.16L1344.05 200.56Z" fill="#4472C4" stroke="#fff" stroke-width="0.45"/>
<path d="M1357.46 193.96L1364.06 200.56L1357.46 207.16L1350.86 200.56Z" fill="#4472C4" stroke="#fff" stroke-width="0.45"/>
<path d="M1364.27 182.79L1370.87 189.39L1364.27 195.99L1357.67 189.39Z" fill="#4472C4" stroke="#fff" stroke-width="0.45"/>
<path d="M1371.09 182.79L1377.69 189.39L1371.09 195.99L1364.49 189.39Z" fill="#4472C4" stroke="#fff" stroke-width="0.45"/>
<path d="M1377.9 174.96L1384.5 181.56L1377.9 188.16L1371.3 181.56Z" fill="#4472C4" stroke="#fff" stroke-width="0.45"/>
<path d="M1384.71 169.38L1391.31 175.98L1384.71 182.58L1378.11 175.98Z" fill="#4472C4" stroke="#fff" stroke-width="0.45"/>
<path d="M1391.53 164.91L1398.13 171.51L1391.53 178.11L1384.93 171.51Z" fill="#4472C4" stroke="#fff" stroke-width="0.45"/>
<path d="M1398.34 159.32L1404.94 165.92L1398.34 172.52L1391.74 165.92Z" fill="#4472C4" stroke="#fff" stroke-width="0.45"/>
<path d="M1405.15 157.09L1411.75 163.69L1405.15 170.29L1398.55 163.69Z" fill="#4472C4" stroke="#fff" stroke-width="0.45"/>
<path d="M1411.97 148.15L1418.57 154.75L1411.97 161.35L1405.37 154.75Z" fill="#4472C4" stroke="#fff" stroke-width="0.45"/>
<path d="M1418.78 140.33L1425.38 146.93L1418.78 153.53L1412.18 146.93Z" fill="#4472C4" stroke="#fff" stroke-width="0.45"/>
<path d="M1425.59 130.27L1432.19 136.87L1425.59 143.47L1418.99 136.87Z" fill="#4472C4" stroke="#fff" stroke-width="0.45"/>
<path d="M1432.41 131.39L1439.01 137.99L1432.41 144.59L1425.81 137.99Z" fill="#4472C4" stroke="#fff" stroke-width="0.45"/>
<path d="M1439.22 124.68L1445.82 131.28L1439.22 137.88L1432.62 131.28Z" fill="#4472C4" stroke="#fff" stroke-width="0.45"/>
<path d="M1446.03 126.92L1452.63 133.52L1446.03 140.12L1439.43 133.52Z" fill="#4472C4" stroke="#fff" stroke-width="0.45"/>
<path d="M1452.85 143.68L1459.45 150.28L1452.85 156.88L1446.25 150.28Z" fill="#4472C4" stroke="#fff" stroke-width="0.45"/>
<path d="M1459.66 309.04L1466.26 315.64L1459.66 322.24L1453.06 315.64Z" fill="#4472C4" stroke="#fff" stroke-width="0.45"/>
<path d="M1466.47 398.43L1473.07 405.03L1466.47 411.63L1459.87 405.03Z" fill="#4472C4" stroke="#fff" stroke-width="0.45"/>
<path d="M1473.29 399.55L1479.89 406.15L1473.29 412.75L1466.69 406.15Z" fill="#4472C4" stroke="#fff" stroke-width="0.45"/>
<g clip-path="url(#clipb)"><circle cx="866.9" cy="322.21" r="6.4" fill="#000" stroke="none" stroke-width="0"/></g>
<circle cx="873.71" cy="323.68" r="6.4" fill="#000" stroke="none" stroke-width="0"/>
<circle cx="880.53" cy="324.41" r="6.4" fill="#000" stroke="none" stroke-width="0"/>
<circle cx="887.34" cy="322.94" r="6.4" fill="#000" stroke="none" stroke-width="0"/>
<circle cx="894.15" cy="321.47" r="6.4" fill="#000" stroke="none" stroke-width="0"/>
<circle cx="900.97" cy="320.74" r="6.4" fill="#000" stroke="none" stroke-width="0"/>
<circle cx="907.78" cy="322.94" r="6.4" fill="#000" stroke="none" stroke-width="0"/>
<circle cx="914.59" cy="320" r="6.4" fill="#000" stroke="none" stroke-width="0"/>
<circle cx="921.41" cy="322.94" r="6.4" fill="#000" stroke="none" stroke-width="0"/>
<circle cx="928.22" cy="325.15" r="6.4" fill="#000" stroke="none" stroke-width="0"/>
<circle cx="935.03" cy="323.68" r="6.4" fill="#000" stroke="none" stroke-width="0"/>
<circle cx="941.85" cy="325.15" r="6.4" fill="#000" stroke="none" stroke-width="0"/>
<circle cx="948.66" cy="322.21" r="6.4" fill="#000" stroke="none" stroke-width="0"/>
<circle cx="955.47" cy="324.41" r="6.4" fill="#000" stroke="none" stroke-width="0"/>
<circle cx="962.29" cy="328.09" r="6.4" fill="#000" stroke="none" stroke-width="0"/>
<circle cx="969.1" cy="325.88" r="6.4" fill="#000" stroke="none" stroke-width="0"/>
<circle cx="975.91" cy="323.68" r="6.4" fill="#000" stroke="none" stroke-width="0"/>
<circle cx="982.73" cy="322.21" r="6.4" fill="#000" stroke="none" stroke-width="0"/>
<circle cx="989.54" cy="325.88" r="6.4" fill="#000" stroke="none" stroke-width="0"/>
<circle cx="996.35" cy="328.82" r="6.4" fill="#000" stroke="none" stroke-width="0"/>
<circle cx="1003.17" cy="327.35" r="6.4" fill="#000" stroke="none" stroke-width="0"/>
<circle cx="1009.98" cy="328.09" r="6.4" fill="#000" stroke="none" stroke-width="0"/>
<circle cx="1016.79" cy="328.82" r="6.4" fill="#000" stroke="none" stroke-width="0"/>
<circle cx="1023.61" cy="331.76" r="6.4" fill="#000" stroke="none" stroke-width="0"/>
<circle cx="1030.42" cy="328.82" r="6.4" fill="#000" stroke="none" stroke-width="0"/>
<circle cx="1037.23" cy="328.09" r="6.4" fill="#000" stroke="none" stroke-width="0"/>
<circle cx="1044.05" cy="328.82" r="6.4" fill="#000" stroke="none" stroke-width="0"/>
<circle cx="1050.86" cy="333.24" r="6.4" fill="#000" stroke="none" stroke-width="0"/>
<circle cx="1057.67" cy="332.94" r="6.4" fill="#000" stroke="none" stroke-width="0"/>
<circle cx="1064.49" cy="332.21" r="6.4" fill="#000" stroke="none" stroke-width="0"/>
<circle cx="1071.3" cy="330.74" r="6.4" fill="#000" stroke="none" stroke-width="0"/>
<circle cx="1078.11" cy="330.74" r="6.4" fill="#000" stroke="none" stroke-width="0"/>
<circle cx="1084.93" cy="333.68" r="6.4" fill="#000" stroke="none" stroke-width="0"/>
<circle cx="1091.74" cy="331.47" r="6.4" fill="#000" stroke="none" stroke-width="0"/>
<circle cx="1098.55" cy="332.94" r="6.4" fill="#000" stroke="none" stroke-width="0"/>
<circle cx="1105.37" cy="335.15" r="6.4" fill="#000" stroke="none" stroke-width="0"/>
<circle cx="1112.18" cy="333.68" r="6.4" fill="#000" stroke="none" stroke-width="0"/>
<circle cx="1118.99" cy="335.15" r="6.4" fill="#000" stroke="none" stroke-width="0"/>
<circle cx="1125.81" cy="336.62" r="6.4" fill="#000" stroke="none" stroke-width="0"/>
<circle cx="1132.62" cy="335.88" r="6.4" fill="#000" stroke="none" stroke-width="0"/>
<circle cx="1139.43" cy="337.35" r="6.4" fill="#000" stroke="none" stroke-width="0"/>
<circle cx="1146.25" cy="338.09" r="6.4" fill="#000" stroke="none" stroke-width="0"/>
<circle cx="1153.06" cy="341.76" r="6.4" fill="#000" stroke="none" stroke-width="0"/>
<circle cx="1159.87" cy="338.82" r="6.4" fill="#000" stroke="none" stroke-width="0"/>
<circle cx="1166.69" cy="340.29" r="6.4" fill="#000" stroke="none" stroke-width="0"/>
<circle cx="1173.5" cy="339.56" r="6.4" fill="#000" stroke="none" stroke-width="0"/>
<circle cx="1180.31" cy="342.5" r="6.4" fill="#000" stroke="none" stroke-width="0"/>
<circle cx="1187.13" cy="344.71" r="6.4" fill="#000" stroke="none" stroke-width="0"/>
<circle cx="1193.94" cy="341.76" r="6.4" fill="#000" stroke="none" stroke-width="0"/>
<circle cx="1200.75" cy="343.24" r="6.4" fill="#000" stroke="none" stroke-width="0"/>
<circle cx="1207.57" cy="344.71" r="6.4" fill="#000" stroke="none" stroke-width="0"/>
<circle cx="1214.38" cy="346.18" r="6.4" fill="#000" stroke="none" stroke-width="0"/>
<circle cx="1221.19" cy="344.71" r="6.4" fill="#000" stroke="none" stroke-width="0"/>
<circle cx="1228.01" cy="346.18" r="6.4" fill="#000" stroke="none" stroke-width="0"/>
<circle cx="1234.82" cy="347.65" r="6.4" fill="#000" stroke="none" stroke-width="0"/>
<circle cx="1241.63" cy="349.12" r="6.4" fill="#000" stroke="none" stroke-width="0"/>
<circle cx="1248.45" cy="348.38" r="6.4" fill="#000" stroke="none" stroke-width="0"/>
<circle cx="1255.26" cy="349.12" r="6.4" fill="#000" stroke="none" stroke-width="0"/>
<circle cx="1262.07" cy="352.51" r="6.4" fill="#000" stroke="none" stroke-width="0"/>
<circle cx="1268.89" cy="351.4" r="6.4" fill="#000" stroke="none" stroke-width="0"/>
<circle cx="1275.7" cy="354.75" r="6.4" fill="#000" stroke="none" stroke-width="0"/>
<circle cx="1282.51" cy="354.75" r="6.4" fill="#000" stroke="none" stroke-width="0"/>
<circle cx="1289.33" cy="354.75" r="6.4" fill="#000" stroke="none" stroke-width="0"/>
<circle cx="1296.14" cy="356.98" r="6.4" fill="#000" stroke="none" stroke-width="0"/>
<circle cx="1302.95" cy="358.1" r="6.4" fill="#000" stroke="none" stroke-width="0"/>
<circle cx="1309.77" cy="359.22" r="6.4" fill="#000" stroke="none" stroke-width="0"/>
<circle cx="1316.58" cy="359.22" r="6.4" fill="#000" stroke="none" stroke-width="0"/>
<circle cx="1323.39" cy="360.34" r="6.4" fill="#000" stroke="none" stroke-width="0"/>
<circle cx="1330.21" cy="362.57" r="6.4" fill="#000" stroke="none" stroke-width="0"/>
<circle cx="1337.02" cy="363.24" r="6.4" fill="#000" stroke="none" stroke-width="0"/>
<circle cx="1343.83" cy="364.8" r="6.4" fill="#000" stroke="none" stroke-width="0"/>
<circle cx="1350.65" cy="365.92" r="6.4" fill="#000" stroke="none" stroke-width="0"/>
<circle cx="1357.46" cy="367.04" r="6.4" fill="#000" stroke="none" stroke-width="0"/>
<circle cx="1364.27" cy="367.71" r="6.4" fill="#000" stroke="none" stroke-width="0"/>
<circle cx="1371.09" cy="368.16" r="6.4" fill="#000" stroke="none" stroke-width="0"/>
<circle cx="1377.9" cy="367.04" r="6.4" fill="#000" stroke="none" stroke-width="0"/>
<circle cx="1384.71" cy="367.04" r="6.4" fill="#000" stroke="none" stroke-width="0"/>
<circle cx="1391.53" cy="365.92" r="6.4" fill="#000" stroke="none" stroke-width="0"/>
<circle cx="1398.34" cy="364.8" r="6.4" fill="#000" stroke="none" stroke-width="0"/>
<circle cx="1405.15" cy="360.34" r="6.4" fill="#000" stroke="none" stroke-width="0"/>
<circle cx="1411.97" cy="359.22" r="6.4" fill="#000" stroke="none" stroke-width="0"/>
<circle cx="1418.78" cy="352.51" r="6.4" fill="#000" stroke="none" stroke-width="0"/>
<circle cx="1425.59" cy="345.81" r="6.4" fill="#000" stroke="none" stroke-width="0"/>
<circle cx="1432.41" cy="334.64" r="6.4" fill="#000" stroke="none" stroke-width="0"/>
<circle cx="1439.22" cy="323.46" r="6.4" fill="#000" stroke="none" stroke-width="0"/>
<circle cx="1446.03" cy="312.29" r="6.4" fill="#000" stroke="none" stroke-width="0"/>
<circle cx="1452.85" cy="310.06" r="6.4" fill="#000" stroke="none" stroke-width="0"/>
<circle cx="1459.66" cy="374.86" r="6.4" fill="#000" stroke="none" stroke-width="0"/>
<circle cx="1466.47" cy="409.5" r="6.4" fill="#000" stroke="none" stroke-width="0"/>
<circle cx="1473.29" cy="409.5" r="6.4" fill="#000" stroke="none" stroke-width="0"/>
<rect x="104.3" y="542.8" width="613.3" height="339.3" fill="none" stroke="#000" stroke-width="2.7"/>
<line x1="104.3" y1="882.1" x2="104.3" y2="889.1" stroke="#000" stroke-width="2.7"/>
<text x="104.3" y="918.3" font-family="Liberation Sans, sans-serif" font-weight="bold" font-size="21" text-anchor="middle">0</text>
<line x1="138.37" y1="882.1" x2="138.37" y2="887.3" stroke="#000" stroke-width="2.7"/>
<line x1="172.44" y1="882.1" x2="172.44" y2="889.1" stroke="#000" stroke-width="2.7"/>
<text x="172.44" y="918.3" font-family="Liberation Sans, sans-serif" font-weight="bold" font-size="21" text-anchor="middle">10</text>
<line x1="206.52" y1="882.1" x2="206.52" y2="887.3" stroke="#000" stroke-width="2.7"/>
<line x1="240.59" y1="882.1" x2="240.59" y2="889.1" stroke="#000" stroke-width="2.7"/>
<text x="240.59" y="918.3" font-family="Liberation Sans, sans-serif" font-weight="bold" font-size="21" text-anchor="middle">20</text>
<line x1="274.66" y1="882.1" x2="274.66" y2="887.3" stroke="#000" stroke-width="2.7"/>
<line x1="308.73" y1="882.1" x2="308.73" y2="889.1" stroke="#000" stroke-width="2.7"/>
<text x="308.73" y="918.3" font-family="Liberation Sans, sans-serif" font-weight="bold" font-size="21" text-anchor="middle">30</text>
<line x1="342.81" y1="882.1" x2="342.81" y2="887.3" stroke="#000" stroke-width="2.7"/>
<line x1="376.88" y1="882.1" x2="376.88" y2="889.1" stroke="#000" stroke-width="2.7"/>
<text x="376.88" y="918.3" font-family="Liberation Sans, sans-serif" font-weight="bold" font-size="21" text-anchor="middle">40</text>
<line x1="410.95" y1="882.1" x2="410.95" y2="887.3" stroke="#000" stroke-width="2.7"/>
<line x1="445.02" y1="882.1" x2="445.02" y2="889.1" stroke="#000" stroke-width="2.7"/>
<text x="445.02" y="918.3" font-family="Liberation Sans, sans-serif" font-weight="bold" font-size="21" text-anchor="middle">50</text>
<line x1="479.09" y1="882.1" x2="479.09" y2="887.3" stroke="#000" stroke-width="2.7"/>
<line x1="513.17" y1="882.1" x2="513.17" y2="889.1" stroke="#000" stroke-width="2.7"/>
<text x="513.17" y="918.3" font-family="Liberation Sans, sans-serif" font-weight="bold" font-size="21" text-anchor="middle">60</text>
<line x1="547.24" y1="882.1" x2="547.24" y2="887.3" stroke="#000" stroke-width="2.7"/>
<line x1="581.31" y1="882.1" x2="581.31" y2="889.1" stroke="#000" stroke-width="2.7"/>
<text x="581.31" y="918.3" font-family="Liberation Sans, sans-serif" font-weight="bold" font-size="21" text-anchor="middle">70</text>
<line x1="615.38" y1="882.1" x2="615.38" y2="887.3" stroke="#000" stroke-width="2.7"/>
<line x1="649.46" y1="882.1" x2="649.46" y2="889.1" stroke="#000" stroke-width="2.7"/>
<text x="649.46" y="918.3" font-family="Liberation Sans, sans-serif" font-weight="bold" font-size="21" text-anchor="middle">80</text>
<line x1="683.53" y1="882.1" x2="683.53" y2="887.3" stroke="#000" stroke-width="2.7"/>
<line x1="717.6" y1="882.1" x2="717.6" y2="889.1" stroke="#000" stroke-width="2.7"/>
<text x="717.6" y="918.3" font-family="Liberation Sans, sans-serif" font-weight="bold" font-size="21" text-anchor="middle">90</text>
<line x1="97.3" y1="882.1" x2="104.3" y2="882.1" stroke="#000" stroke-width="2.7"/>
<text x="83.9" y="888.6" font-family="Liberation Sans, sans-serif" font-weight="bold" font-size="21" text-anchor="end">0.0</text>
<line x1="99.1" y1="839.69" x2="104.3" y2="839.69" stroke="#000" stroke-width="2.7"/>
<line x1="97.3" y1="797.27" x2="104.3" y2="797.27" stroke="#000" stroke-width="2.7"/>
<text x="83.9" y="803.77" font-family="Liberation Sans, sans-serif" font-weight="bold" font-size="21" text-anchor="end">0.4</text>
<line x1="99.1" y1="754.86" x2="104.3" y2="754.86" stroke="#000" stroke-width="2.7"/>
<line x1="97.3" y1="712.45" x2="104.3" y2="712.45" stroke="#000" stroke-width="2.7"/>
<text x="83.9" y="718.95" font-family="Liberation Sans, sans-serif" font-weight="bold" font-size="21" text-anchor="end">0.8</text>
<line x1="99.1" y1="670.04" x2="104.3" y2="670.04" stroke="#000" stroke-width="2.7"/>
<line x1="97.3" y1="627.62" x2="104.3" y2="627.62" stroke="#000" stroke-width="2.7"/>
<text x="83.9" y="634.12" font-family="Liberation Sans, sans-serif" font-weight="bold" font-size="21" text-anchor="end">1.2</text>
<line x1="99.1" y1="585.21" x2="104.3" y2="585.21" stroke="#000" stroke-width="2.7"/>
<line x1="97.3" y1="542.8" x2="104.3" y2="542.8" stroke="#000" stroke-width="2.7"/>
<text x="83.9" y="549.3" font-family="Liberation Sans, sans-serif" font-weight="bold" font-size="21" text-anchor="end">1.6</text>
<path d="M104.3 796.49L110.9 803.09L104.3 809.69L97.7 803.09Z" fill="#4472C4" stroke="#fff" stroke-width="0.45"/>
<path d="M111.11 793.55L117.71 800.15L111.11 806.75L104.51 800.15Z" fill="#4472C4" stroke="#fff" stroke-width="0.45"/>
<path d="M117.93 786.93L124.53 793.53L117.93 800.13L111.33 793.53Z" fill="#4472C4" stroke="#fff" stroke-width="0.45"/>
<path d="M124.74 794.28L131.34 800.88L124.74 807.48L118.14 800.88Z" fill="#4472C4" stroke="#fff" stroke-width="0.45"/>
<path d="M131.56 784.72L138.16 791.32L131.56 797.92L124.96 791.32Z" fill="#4472C4" stroke="#fff" stroke-width="0.45"/>
<path d="M138.37 802.37L144.97 808.97L138.37 815.57L131.77 808.97Z" fill="#4472C4" stroke="#fff" stroke-width="0.45"/>
<path d="M145.19 800.9L151.79 807.5L145.19 814.1L138.59 807.5Z" fill="#4472C4" stroke="#fff" stroke-width="0.45"/>
<path d="M152 802.37L158.6 808.97L152 815.57L145.4 808.97Z" fill="#4472C4" stroke="#fff" stroke-width="0.45"/>
<path d="M158.82 807.52L165.42 814.12L158.82 820.72L152.22 814.12Z" fill="#4472C4" stroke="#fff" stroke-width="0.45"/>
<path d="M165.63 798.69L172.23 805.29L165.63 811.89L159.03 805.29Z" fill="#4472C4" stroke="#fff" stroke-width="0.45"/>
<path d="M172.44 813.11L179.04 819.71L172.44 826.31L165.84 819.71Z" fill="#4472C4" stroke="#fff" stroke-width="0.45"/>
<path d="M179.26 811.93L185.86 818.53L179.26 825.13L172.66 818.53Z" fill="#4472C4" stroke="#fff" stroke-width="0.45"/>
<path d="M186.07 815.61L192.67 822.21L186.07 828.81L179.47 822.21Z" fill="#4472C4" stroke="#fff" stroke-width="0.45"/>
<path d="M192.89 817.81L199.49 824.41L192.89 831.01L186.29 824.41Z" fill="#4472C4" stroke="#fff" stroke-width="0.45"/>
<path d="M199.7 812.66L206.3 819.26L199.7 825.86L193.1 819.26Z" fill="#4472C4" stroke="#fff" stroke-width="0.45"/>
<path d="M206.52 818.55L213.12 825.15L206.52 831.75L199.92 825.15Z" fill="#4472C4" stroke="#fff" stroke-width="0.45"/>
<path d="M213.33 814.14L219.93 820.74L213.33 827.34L206.73 820.74Z" fill="#4472C4" stroke="#fff" stroke-width="0.45"/>
<path d="M220.15 818.55L226.75 825.15L220.15 831.75L213.55 825.15Z" fill="#4472C4" stroke="#fff" stroke-width="0.45"/>
<path d="M226.96 820.02L233.56 826.62L226.96 833.22L220.36 826.62Z" fill="#4472C4" stroke="#fff" stroke-width="0.45"/>
<path d="M233.77 818.55L240.37 825.15L233.77 831.75L227.17 825.15Z" fill="#4472C4" stroke="#fff" stroke-width="0.45"/>
<path d="M240.59 815.61L247.19 822.21L240.59 828.81L233.99 822.21Z" fill="#4472C4" stroke="#fff" stroke-width="0.45"/>
<path d="M247.4 819.28L254 825.88L247.4 832.48L240.8 825.88Z" fill="#4472C4" stroke="#fff" stroke-width="0.45"/>
<path d="M254.22 820.02L260.82 826.62L254.22 833.22L247.62 826.62Z" fill="#4472C4" stroke="#fff" stroke-width="0.45"/>
<path d="M261.03 817.08L267.63 823.68L261.03 830.28L254.43 823.68Z" fill="#4472C4" stroke="#fff" stroke-width="0.45"/>
<path d="M267.85 819.28L274.45 825.88L267.85 832.48L261.25 825.88Z" fill="#4472C4" stroke="#fff" stroke-width="0.45"/>
<path d="M274.66 816.34L281.26 822.94L274.66 829.54L268.06 822.94Z" fill="#4472C4" stroke="#fff" stroke-width="0.45"/>
<path d="M281.48 814.87L288.08 821.47L281.48 828.07L274.88 821.47Z" fill="#4472C4" stroke="#fff" stroke-width="0.45"/>
<path d="M288.29 820.02L294.89 826.62L288.29 833.22L281.69 826.62Z" fill="#4472C4" stroke="#fff" stroke-width="0.45"/>
<path d="M295.1 816.34L301.7 822.94L295.1 829.54L288.5 822.94Z" fill="#4472C4" stroke="#fff" stroke-width="0.45"/>
<path d="M301.92 821.05L308.52 827.65L301.92 834.25L295.32 827.65Z" fill="#4472C4" stroke="#fff" stroke-width="0.45"/>
<path d="M308.73 823.25L315.33 829.85L308.73 836.45L302.13 829.85Z" fill="#4472C4" stroke="#fff" stroke-width="0.45"/>
<path d="M315.55 818.11L322.15 824.71L315.55 831.31L308.95 824.71Z" fill="#4472C4" stroke="#fff" stroke-width="0.45"/>
<path d="M322.36 819.58L328.96 826.18L322.36 832.78L315.76 826.18Z" fill="#4472C4" stroke="#fff" stroke-width="0.45"/>
<path d="M329.18 821.05L335.78 827.65L329.18 834.25L322.58 827.65Z" fill="#4472C4" stroke="#fff" stroke-width="0.45"/>
<path d="M335.99 820.31L342.59 826.91L335.99 833.51L329.39 826.91Z" fill="#4472C4" stroke="#fff" stroke-width="0.45"/>
<path d="M342.81 821.05L349.41 827.65L342.81 834.25L336.21 827.65Z" fill="#4472C4" stroke="#fff" stroke-width="0.45"/>
<path d="M349.62 818.84L356.22 825.44L349.62 832.04L343.02 825.44Z" fill="#4472C4" stroke="#fff" stroke-width="0.45"/>
<path d="M356.43 819.58L363.03 826.18L356.43 832.78L349.83 826.18Z" fill="#4472C4" stroke="#fff" stroke-width="0.45"/>
<path d="M363.25 818.84L369.85 825.44L363.25 832.04L356.65 825.44Z" fill="#4472C4" stroke="#fff" stroke-width="0.45"/>
<path d="M370.06 818.11L376.66 824.71L370.06 831.31L363.46 824.71Z" fill="#4472C4" stroke="#fff" stroke-width="0.45"/>
<path d="M376.88 815.9L383.48 822.5L376.88 829.1L370.28 822.5Z" fill="#4472C4" stroke="#fff" stroke-width="0.45"/>
<path d="M383.69 810.75L390.29 817.35L383.69 823.95L377.09 817.35Z" fill="#4472C4" stroke="#fff" stroke-width="0.45"/>
<path d="M390.51 815.16L397.11 821.76L390.51 828.36L383.91 821.76Z" fill="#4472C4" stroke="#fff" stroke-width="0.45"/>
<path d="M397.32 815.16L403.92 821.76L397.32 828.36L390.72 821.76Z" fill="#4472C4" stroke="#fff" stroke-width="0.45"/>
<path d="M404.14 811.49L410.74 818.09L404.14 824.69L397.54 818.09Z" fill="#4472C4" stroke="#fff" stroke-width="0.45"/>
<path d="M410.95 813.69L417.55 820.29L410.95 826.89L404.35 820.29Z" fill="#4472C4" stroke="#fff" stroke-width="0.45"/>
<path d="M417.76 812.22L424.36 818.82L417.76 825.42L411.16 818.82Z" fill="#4472C4" stroke="#fff" stroke-width="0.45"/>
<path d="M424.58 807.08L431.18 813.68L424.58 820.28L417.98 813.68Z" fill="#4472C4" stroke="#fff" stroke-width="0.45"/>
<path d="M431.39 810.75L437.99 817.35L431.39 823.95L424.79 817.35Z" fill="#4472C4" stroke="#fff" stroke-width="0.45"/>
<path d="M438.21 810.02L444.81 816.62L438.21 823.22L431.61 816.62Z" fill="#4472C4" stroke="#fff" stroke-width="0.45"/>
<path d="M445.02 808.55L451.62 815.15L445.02 821.75L438.42 815.15Z" fill="#4472C4" stroke="#fff" stroke-width="0.45"/>
<path d="M451.84 807.08L458.44 813.68L451.84 820.28L445.24 813.68Z" fill="#4472C4" stroke="#fff" stroke-width="0.45"/>
<path d="M458.65 802.66L465.25 809.26L458.65 815.86L452.05 809.26Z" fill="#4472C4" stroke="#fff" stroke-width="0.45"/>
<path d="M465.47 804.14L472.07 810.74L465.47 817.34L458.87 810.74Z" fill="#4472C4" stroke="#fff" stroke-width="0.45"/>
<path d="M472.28 797.52L478.88 804.12L472.28 810.72L465.68 804.12Z" fill="#4472C4" stroke="#fff" stroke-width="0.45"/>
<path d="M479.09 801.19L485.69 807.79L479.09 814.39L472.49 807.79Z" fill="#4472C4" stroke="#fff" stroke-width="0.45"/>
<path d="M485.91 800.97L492.51 807.57L485.91 814.17L479.31 807.57Z" fill="#4472C4" stroke="#fff" stroke-width="0.45"/>
<path d="M492.72 799.96L499.32 806.56L492.72 813.16L486.12 806.56Z" fill="#4472C4" stroke="#fff" stroke-width="0.45"/>
<path d="M499.54 796.92L506.14 803.52L499.54 810.12L492.94 803.52Z" fill="#4472C4" stroke="#fff" stroke-width="0.45"/>
<path d="M506.35 794.9L512.95 801.5L506.35 808.1L499.75 801.5Z" fill="#4472C4" stroke="#fff" stroke-width="0.45"/>
<path d="M513.17 792.87L519.77 799.47L513.17 806.07L506.57 799.47Z" fill="#4472C4" stroke="#fff" stroke-width="0.45"/>
<path d="M519.98 790.85L526.58 797.45L519.98 804.05L513.38 797.45Z" fill="#4472C4" stroke="#fff" stroke-width="0.45"/>
<path d="M526.8 787.81L533.4 794.41L526.8 801.01L520.2 794.41Z" fill="#4472C4" stroke="#fff" stroke-width="0.45"/>
<path d="M533.61 786.8L540.21 793.4L533.61 800L527.01 793.4Z" fill="#4472C4" stroke="#fff" stroke-width="0.45"/>
<path d="M540.42 783.76L547.02 790.36L540.42 796.96L533.82 790.36Z" fill="#4472C4" stroke="#fff" stroke-width="0.45"/>
<path d="M547.24 779.71L553.84 786.31L547.24 792.91L540.64 786.31Z" fill="#4472C4" stroke="#fff" stroke-width="0.45"/>
<path d="M554.05 776.67L560.65 783.27L554.05 789.87L547.45 783.27Z" fill="#4472C4" stroke="#fff" stroke-width="0.45"/>
<path d="M560.87 773.63L567.47 780.23L560.87 786.83L554.27 780.23Z" fill="#4472C4" stroke="#fff" stroke-width="0.45"/>
<path d="M567.68 769.58L574.28 776.18L567.68 782.78L561.08 776.18Z" fill="#4472C4" stroke="#fff" stroke-width="0.45"/>
<path d="M574.5 766.55L581.1 773.15L574.5 779.75L567.9 773.15Z" fill="#4472C4" stroke="#fff" stroke-width="0.45"/>
<path d="M581.31 760.47L587.91 767.07L581.31 773.67L574.71 767.07Z" fill="#4472C4" stroke="#fff" stroke-width="0.45"/>
<path d="M588.13 753.38L594.73 759.98L588.13 766.58L581.53 759.98Z" fill="#4472C4" stroke="#fff" stroke-width="0.45"/>
<path d="M594.94 748.32L601.54 754.92L594.94 761.52L588.34 754.92Z" fill="#4472C4" stroke="#fff" stroke-width="0.45"/>
<path d="M601.75 740.22L608.35 746.82L601.75 753.42L595.15 746.82Z" fill="#4472C4" stroke="#fff" stroke-width="0.45"/>
<path d="M608.57 732.12L615.17 738.72L608.57 745.32L601.97 738.72Z" fill="#4472C4" stroke="#fff" stroke-width="0.45"/>
<path d="M615.38 721.99L621.98 728.59L615.38 735.19L608.78 728.59Z" fill="#4472C4" stroke="#fff" stroke-width="0.45"/>
<path d="M622.2 709.84L628.8 716.44L622.2 723.04L615.6 716.44Z" fill="#4472C4" stroke="#fff" stroke-width="0.45"/>
<path d="M629.01 695.67L635.61 702.27L629.01 708.87L622.41 702.27Z" fill="#4472C4" stroke="#fff" stroke-width="0.45"/>
<path d="M635.83 679.47L642.43 686.07L635.83 692.67L629.23 686.07Z" fill="#4472C4" stroke="#fff" stroke-width="0.45"/>
<path d="M642.64 662.25L649.24 668.85L642.64 675.45L636.04 668.85Z" fill="#4472C4" stroke="#fff" stroke-width="0.45"/>
<path d="M649.46 638.97L656.06 645.57L649.46 652.17L642.86 645.57Z" fill="#4472C4" stroke="#fff" stroke-width="0.45"/>
<path d="M656.27 611.63L662.87 618.23L656.27 624.83L649.67 618.23Z" fill="#4472C4" stroke="#fff" stroke-width="0.45"/>
<path d="M663.08 648.08L669.68 654.68L663.08 661.28L656.48 654.68Z" fill="#4472C4" stroke="#fff" stroke-width="0.45"/>
<path d="M669.9 773.63L676.5 780.23L669.9 786.83L663.3 780.23Z" fill="#4472C4" stroke="#fff" stroke-width="0.45"/>
<path d="M676.71 851.6L683.31 858.2L676.71 864.8L670.11 858.2Z" fill="#4472C4" stroke="#fff" stroke-width="0.45"/>
<path d="M683.53 862.74L690.13 869.34L683.53 875.94L676.93 869.34Z" fill="#4472C4" stroke="#fff" stroke-width="0.45"/>
<path d="M690.34 866.79L696.94 873.39L690.34 879.99L683.74 873.39Z" fill="#4472C4" stroke="#fff" stroke-width="0.45"/>
<path d="M697.16 865.78L703.76 872.38L697.16 878.98L690.56 872.38Z" fill="#4472C4" stroke="#fff" stroke-width="0.45"/>
<path d="M703.97 851.6L710.57 858.2L703.97 864.8L697.37 858.2Z" fill="#4472C4" stroke="#fff" stroke-width="0.45"/>
<path d="M710.79 813.12L717.39 819.72L710.79 826.32L704.19 819.72Z" fill="#4472C4" stroke="#fff" stroke-width="0.45"/>
<path d="M717.6 815.15L724.2 821.75L717.6 828.35L711 821.75Z" fill="#4472C4" stroke="#fff" stroke-width="0.45"/>
<circle cx="104.3" cy="837.65" r="6.4" fill="#000" stroke="none" stroke-width="0"/>
<circle cx="111.11" cy="837.72" r="6.4" fill="#000" stroke="none" stroke-width="0"/>
<circle cx="117.93" cy="837.79" r="6.4" fill="#000" stroke="none" stroke-width="0"/>
<circle cx="124.74" cy="837.87" r="6.4" fill="#000" stroke="none" stroke-width="0"/>
<circle cx="131.56" cy="837.94" r="6.4" fill="#000" stroke="none" stroke-width="0"/>
<circle cx="138.37" cy="838.01" r="6.4" fill="#000" stroke="none" stroke-width="0"/>
<circle cx="145.19" cy="838.09" r="6.4" fill="#000" stroke="none" stroke-width="0"/>
<circle cx="152" cy="838.16" r="6.4" fill="#000" stroke="none" stroke-width="0"/>
<circle cx="158.82" cy="838.24" r="6.4" fill="#000" stroke="none" stroke-width="0"/>
<circle cx="165.63" cy="838.31" r="6.4" fill="#000" stroke="none" stroke-width="0"/>
<circle cx="172.44" cy="838.38" r="6.4" fill="#000" stroke="none" stroke-width="0"/>
<circle cx="179.26" cy="838.46" r="6.4" fill="#000" stroke="none" stroke-width="0"/>
<circle cx="186.07" cy="838.53" r="6.4" fill="#000" stroke="none" stroke-width="0"/>
<circle cx="192.89" cy="838.6" r="6.4" fill="#000" stroke="none" stroke-width="0"/>
<circle cx="199.7" cy="838.68" r="6.4" fill="#000" stroke="none" stroke-width="0"/>
<circle cx="206.52" cy="838.75" r="6.4" fill="#000" stroke="none" stroke-width="0"/>
<circle cx="213.33" cy="838.82" r="6.4" fill="#000" stroke="none" stroke-width="0"/>
<circle cx="220.15" cy="838.9" r="6.4" fill="#000" stroke="none" stroke-width="0"/>
<circle cx="226.96" cy="838.97" r="6.4" fill="#000" stroke="none" stroke-width="0"/>
<circle cx="233.77" cy="839.04" r="6.4" fill="#000" stroke="none" stroke-width="0"/>
<circle cx="240.59" cy="839.12" r="6.4" fill="#000" stroke="none" stroke-width="0"/>
<circle cx="247.4" cy="839.17" r="6.4" fill="#000" stroke="none" stroke-width="0"/>
<circle cx="254.22" cy="839.23" r="6.4" fill="#000" stroke="none" stroke-width="0"/>
<circle cx="261.03" cy="839.28" r="6.4" fill="#000" stroke="none" stroke-width="0"/>
<circle cx="267.85" cy="839.34" r="6.4" fill="#000" stroke="none" stroke-width="0"/>
<circle cx="274.66" cy="839.39" r="6.4" fill="#000" stroke="none" stroke-width="0"/>
<circle cx="281.48" cy="839.45" r="6.4" fill="#000" stroke="none" stroke-width="0"/>
<circle cx="288.29" cy="839.5" r="6.4" fill="#000" stroke="none" stroke-width="0"/>
<circle cx="295.1" cy="839.56" r="6.4" fill="#000" stroke="none" stroke-width="0"/>
<circle cx="301.92" cy="840.15" r="6.4" fill="#000" stroke="none" stroke-width="0"/>
<circle cx="308.73" cy="840.51" r="6.4" fill="#000" stroke="none" stroke-width="0"/>
<circle cx="315.55" cy="840.88" r="6.4" fill="#000" stroke="none" stroke-width="0"/>
<circle cx="322.36" cy="841.25" r="6.4" fill="#000" stroke="none" stroke-width="0"/>
<circle cx="329.18" cy="841.62" r="6.4" fill="#000" stroke="none" stroke-width="0"/>
<circle cx="335.99" cy="841.99" r="6.4" fill="#000" stroke="none" stroke-width="0"/>
<circle cx="342.81" cy="842.35" r="6.4" fill="#000" stroke="none" stroke-width="0"/>
<circle cx="349.62" cy="842.65" r="6.4" fill="#000" stroke="none" stroke-width="0"/>
<circle cx="356.43" cy="842.94" r="6.4" fill="#000" stroke="none" stroke-width="0"/>
<circle cx="363.25" cy="843.24" r="6.4" fill="#000" stroke="none" stroke-width="0"/>
<circle cx="370.06" cy="843.53" r="6.4" fill="#000" stroke="none" stroke-width="0"/>
<circle cx="376.88" cy="843.82" r="6.4" fill="#000" stroke="none" stroke-width="0"/>
<circle cx="383.69" cy="844.41" r="6.4" fill="#000" stroke="none" stroke-width="0"/>
<circle cx="390.51" cy="845" r="6.4" fill="#000" stroke="none" stroke-width="0"/>
<circle cx="397.32" cy="845.59" r="6.4" fill="#000" stroke="none" stroke-width="0"/>
<circle cx="404.14" cy="846.18" r="6.4" fill="#000" stroke="none" stroke-width="0"/>
<circle cx="410.95" cy="846.76" r="6.4" fill="#000" stroke="none" stroke-width="0"/>
<circle cx="417.76" cy="847.06" r="6.4" fill="#000" stroke="none" stroke-width="0"/>
<circle cx="424.58" cy="847.35" r="6.4" fill="#000" stroke="none" stroke-width="0"/>
<circle cx="431.39" cy="847.65" r="6.4" fill="#000" stroke="none" stroke-width="0"/>
<circle cx="438.21" cy="847.94" r="6.4" fill="#000" stroke="none" stroke-width="0"/>
<circle cx="445.02" cy="848.24" r="6.4" fill="#000" stroke="none" stroke-width="0"/>
<circle cx="451.84" cy="848.53" r="6.4" fill="#000" stroke="none" stroke-width="0"/>
<circle cx="458.65" cy="848.82" r="6.4" fill="#000" stroke="none" stroke-width="0"/>
<circle cx="465.47" cy="849.12" r="6.4" fill="#000" stroke="none" stroke-width="0"/>
<circle cx="472.28" cy="849.41" r="6.4" fill="#000" stroke="none" stroke-width="0"/>
<circle cx="479.09" cy="849.71" r="6.4" fill="#000" stroke="none" stroke-width="0"/>
<circle cx="485.91" cy="850.1" r="6.4" fill="#000" stroke="none" stroke-width="0"/>
<circle cx="492.72" cy="850.1" r="6.4" fill="#000" stroke="none" stroke-width="0"/>
<circle cx="499.54" cy="850.1" r="6.4" fill="#000" stroke="none" stroke-width="0"/>
<circle cx="506.35" cy="850.1" r="6.4" fill="#000" stroke="none" stroke-width="0"/>
<circle cx="513.17" cy="849.49" r="6.4" fill="#000" stroke="none" stroke-width="0"/>
<circle cx="519.98" cy="849.09" r="6.4" fill="#000" stroke="none" stroke-width="0"/>
<circle cx="526.8" cy="850.1" r="6.4" fill="#000" stroke="none" stroke-width="0"/>
<circle cx="533.61" cy="849.09" r="6.4" fill="#000" stroke="none" stroke-width="0"/>
<circle cx="540.42" cy="848.68" r="6.4" fill="#000" stroke="none" stroke-width="0"/>
<circle cx="547.24" cy="848.08" r="6.4" fill="#000" stroke="none" stroke-width="0"/>
<circle cx="554.05" cy="847.47" r="6.4" fill="#000" stroke="none" stroke-width="0"/>
<circle cx="560.87" cy="846.05" r="6.4" fill="#000" stroke="none" stroke-width="0"/>
<circle cx="567.68" cy="844.03" r="6.4" fill="#000" stroke="none" stroke-width="0"/>
<circle cx="574.5" cy="842" r="6.4" fill="#000" stroke="none" stroke-width="0"/>
<circle cx="581.31" cy="839.98" r="6.4" fill="#000" stroke="none" stroke-width="0"/>
<circle cx="588.13" cy="836.94" r="6.4" fill="#000" stroke="none" stroke-width="0"/>
<circle cx="594.94" cy="833.9" r="6.4" fill="#000" stroke="none" stroke-width="0"/>
<circle cx="601.75" cy="829.85" r="6.4" fill="#000" stroke="none" stroke-width="0"/>
<circle cx="608.57" cy="826.81" r="6.4" fill="#000" stroke="none" stroke-width="0"/>
<circle cx="615.38" cy="823.77" r="6.4" fill="#000" stroke="none" stroke-width="0"/>
<circle cx="622.2" cy="820.74" r="6.4" fill="#000" stroke="none" stroke-width="0"/>
<circle cx="629.01" cy="817.7" r="6.4" fill="#000" stroke="none" stroke-width="0"/>
<circle cx="635.83" cy="816.28" r="6.4" fill="#000" stroke="none" stroke-width="0"/>
<circle cx="642.64" cy="815.67" r="6.4" fill="#000" stroke="none" stroke-width="0"/>
<circle cx="649.46" cy="816.69" r="6.4" fill="#000" stroke="none" stroke-width="0"/>
<circle cx="656.27" cy="816.28" r="6.4" fill="#000" stroke="none" stroke-width="0"/>
<circle cx="663.08" cy="826.81" r="6.4" fill="#000" stroke="none" stroke-width="0"/>
<circle cx="669.9" cy="848.08" r="6.4" fill="#000" stroke="none" stroke-width="0"/>
<circle cx="676.71" cy="865.29" r="6.4" fill="#000" stroke="none" stroke-width="0"/>
<circle cx="683.53" cy="874.4" r="6.4" fill="#000" stroke="none" stroke-width="0"/>
<circle cx="690.34" cy="877.44" r="6.4" fill="#000" stroke="none" stroke-width="0"/>
<circle cx="697.16" cy="876.43" r="6.4" fill="#000" stroke="none" stroke-width="0"/>
<circle cx="703.97" cy="867.31" r="6.4" fill="#000" stroke="none" stroke-width="0"/>
<circle cx="710.79" cy="823.77" r="6.4" fill="#000" stroke="none" stroke-width="0"/>
<circle cx="717.6" cy="848.08" r="6.4" fill="#000" stroke="none" stroke-width="0"/>
<rect x="866.9" y="542.2" width="613.2" height="339" fill="none" stroke="#000" stroke-width="2.7"/>
<line x1="866.9" y1="881.2" x2="866.9" y2="888.2" stroke="#000" stroke-width="2.7"/>
<text x="866.9" y="917.4" font-family="Liberation Sans, sans-serif" font-weight="bold" font-size="21" text-anchor="middle">0</text>
<line x1="900.97" y1="881.2" x2="900.97" y2="886.4" stroke="#000" stroke-width="2.7"/>
<line x1="935.03" y1="881.2" x2="935.03" y2="888.2" stroke="#000" stroke-width="2.7"/>
<text x="935.03" y="917.4" font-family="Liberation Sans, sans-serif" font-weight="bold" font-size="21" text-anchor="middle">10</text>
<line x1="969.1" y1="881.2" x2="969.1" y2="886.4" stroke="#000" stroke-width="2.7"/>
<line x1="1003.17" y1="881.2" x2="1003.17" y2="888.2" stroke="#000" stroke-width="2.7"/>
<text x="1003.17" y="917.4" font-family="Liberation Sans, sans-serif" font-weight="bold" font-size="21" text-anchor="middle">20</text>
<line x1="1037.23" y1="881.2" x2="1037.23" y2="886.4" stroke="#000" stroke-width="2.7"/>
<line x1="1071.3" y1="881.2" x2="1071.3" y2="888.2" stroke="#000" stroke-width="2.7"/>
<text x="1071.3" y="917.4" font-family="Liberation Sans, sans-serif" font-weight="bold" font-size="21" text-anchor="middle">30</text>
<line x1="1105.37" y1="881.2" x2="1105.37" y2="886.4" stroke="#000" stroke-width="2.7"/>
<line x1="1139.43" y1="881.2" x2="1139.43" y2="888.2" stroke="#000" stroke-width="2.7"/>
<text x="1139.43" y="917.4" font-family="Liberation Sans, sans-serif" font-weight="bold" font-size="21" text-anchor="middle">40</text>
<line x1="1173.5" y1="881.2" x2="1173.5" y2="886.4" stroke="#000" stroke-width="2.7"/>
<line x1="1207.57" y1="881.2" x2="1207.57" y2="888.2" stroke="#000" stroke-width="2.7"/>
<text x="1207.57" y="917.4" font-family="Liberation Sans, sans-serif" font-weight="bold" font-size="21" text-anchor="middle">50</text>
<line x1="1241.63" y1="881.2" x2="1241.63" y2="886.4" stroke="#000" stroke-width="2.7"/>
<line x1="1275.7" y1="881.2" x2="1275.7" y2="888.2" stroke="#000" stroke-width="2.7"/>
<text x="1275.7" y="917.4" font-family="Liberation Sans, sans-serif" font-weight="bold" font-size="21" text-anchor="middle">60</text>
<line x1="1309.77" y1="881.2" x2="1309.77" y2="886.4" stroke="#000" stroke-width="2.7"/>
<line x1="1343.83" y1="881.2" x2="1343.83" y2="888.2" stroke="#000" stroke-width="2.7"/>
<text x="1343.83" y="917.4" font-family="Liberation Sans, sans-serif" font-weight="bold" font-size="21" text-anchor="middle">70</text>
<line x1="1377.9" y1="881.2" x2="1377.9" y2="886.4" stroke="#000" stroke-width="2.7"/>
<line x1="1411.97" y1="881.2" x2="1411.97" y2="888.2" stroke="#000" stroke-width="2.7"/>
<text x="1411.97" y="917.4" font-family="Liberation Sans, sans-serif" font-weight="bold" font-size="21" text-anchor="middle">80</text>
<line x1="1446.03" y1="881.2" x2="1446.03" y2="886.4" stroke="#000" stroke-width="2.7"/>
<line x1="1480.1" y1="881.2" x2="1480.1" y2="888.2" stroke="#000" stroke-width="2.7"/>
<text x="1480.1" y="917.4" font-family="Liberation Sans, sans-serif" font-weight="bold" font-size="21" text-anchor="middle">90</text>
<line x1="859.9" y1="881.2" x2="866.9" y2="881.2" stroke="#000" stroke-width="2.7"/>
<text x="846.5" y="887.7" font-family="Liberation Sans, sans-serif" font-weight="bold" font-size="21" text-anchor="end">0.0</text>
<line x1="861.7" y1="838.83" x2="866.9" y2="838.83" stroke="#000" stroke-width="2.7"/>
<line x1="859.9" y1="796.45" x2="866.9" y2="796.45" stroke="#000" stroke-width="2.7"/>
<text x="846.5" y="802.95" font-family="Liberation Sans, sans-serif" font-weight="bold" font-size="21" text-anchor="end">0.4</text>
<line x1="861.7" y1="754.08" x2="866.9" y2="754.08" stroke="#000" stroke-width="2.7"/>
<line x1="859.9" y1="711.7" x2="866.9" y2="711.7" stroke="#000" stroke-width="2.7"/>
<text x="846.5" y="718.2" font-family="Liberation Sans, sans-serif" font-weight="bold" font-size="21" text-anchor="end">0.8</text>
<line x1="861.7" y1="669.33" x2="866.9" y2="669.33" stroke="#000" stroke-width="2.7"/>
<line x1="859.9" y1="626.95" x2="866.9" y2="626.95" stroke="#000" stroke-width="2.7"/>
<text x="846.5" y="633.45" font-family="Liberation Sans, sans-serif" font-weight="bold" font-size="21" text-anchor="end">1.2</text>
<line x1="861.7" y1="584.58" x2="866.9" y2="584.58" stroke="#000" stroke-width="2.7"/>
<line x1="859.9" y1="542.2" x2="866.9" y2="542.2" stroke="#000" stroke-width="2.7"/>
<text x="846.5" y="548.7" font-family="Liberation Sans, sans-serif" font-weight="bold" font-size="21" text-anchor="end">1.6</text>
<path d="M866.9 795.75L873.5 802.35L866.9 808.95L860.3 802.35Z" fill="#4472C4" stroke="#fff" stroke-width="0.45"/>
<path d="M873.71 795.02L880.31 801.62L873.71 808.22L867.11 801.62Z" fill="#4472C4" stroke="#fff" stroke-width="0.45"/>
<path d="M880.53 804.58L887.13 811.18L880.53 817.78L873.93 811.18Z" fill="#4472C4" stroke="#fff" stroke-width="0.45"/>
<path d="M887.34 813.4L893.94 820L887.34 826.6L880.74 820Z" fill="#4472C4" stroke="#fff" stroke-width="0.45"/>
<path d="M894.15 811.93L900.75 818.53L894.15 825.13L887.55 818.53Z" fill="#4472C4" stroke="#fff" stroke-width="0.45"/>
<path d="M900.97 815.61L907.57 822.21L900.97 828.81L894.37 822.21Z" fill="#4472C4" stroke="#fff" stroke-width="0.45"/>
<path d="M907.78 819.28L914.38 825.88L907.78 832.48L901.18 825.88Z" fill="#4472C4" stroke="#fff" stroke-width="0.45"/>
<path d="M914.59 820.02L921.19 826.62L914.59 833.22L907.99 826.62Z" fill="#4472C4" stroke="#fff" stroke-width="0.45"/>
<path d="M921.41 812.66L928.01 819.26L921.41 825.86L914.81 819.26Z" fill="#4472C4" stroke="#fff" stroke-width="0.45"/>
<path d="M928.22 811.93L934.82 818.53L928.22 825.13L921.62 818.53Z" fill="#4472C4" stroke="#fff" stroke-width="0.45"/>
<path d="M935.03 808.25L941.63 814.85L935.03 821.45L928.43 814.85Z" fill="#4472C4" stroke="#fff" stroke-width="0.45"/>
<path d="M941.85 803.11L948.45 809.71L941.85 816.31L935.25 809.71Z" fill="#4472C4" stroke="#fff" stroke-width="0.45"/>
<path d="M948.66 806.05L955.26 812.65L948.66 819.25L942.06 812.65Z" fill="#4472C4" stroke="#fff" stroke-width="0.45"/>
<path d="M955.47 811.19L962.07 817.79L955.47 824.39L948.87 817.79Z" fill="#4472C4" stroke="#fff" stroke-width="0.45"/>
<path d="M962.29 812.66L968.89 819.26L962.29 825.86L955.69 819.26Z" fill="#4472C4" stroke="#fff" stroke-width="0.45"/>
<path d="M969.1 811.19L975.7 817.79L969.1 824.39L962.5 817.79Z" fill="#4472C4" stroke="#fff" stroke-width="0.45"/>
<path d="M975.91 807.52L982.51 814.12L975.91 820.72L969.31 814.12Z" fill="#4472C4" stroke="#fff" stroke-width="0.45"/>
<path d="M982.73 812.66L989.33 819.26L982.73 825.86L976.13 819.26Z" fill="#4472C4" stroke="#fff" stroke-width="0.45"/>
<path d="M989.54 817.81L996.14 824.41L989.54 831.01L982.94 824.41Z" fill="#4472C4" stroke="#fff" stroke-width="0.45"/>
<path d="M996.35 813.4L1002.95 820L996.35 826.6L989.75 820Z" fill="#4472C4" stroke="#fff" stroke-width="0.45"/>
<path d="M1003.17 800.9L1009.77 807.5L1003.17 814.1L996.57 807.5Z" fill="#4472C4" stroke="#fff" stroke-width="0.45"/>
<path d="M1009.98 811.93L1016.58 818.53L1009.98 825.13L1003.38 818.53Z" fill="#4472C4" stroke="#fff" stroke-width="0.45"/>
<path d="M1016.79 817.81L1023.39 824.41L1016.79 831.01L1010.19 824.41Z" fill="#4472C4" stroke="#fff" stroke-width="0.45"/>
<path d="M1023.61 814.14L1030.21 820.74L1023.61 827.34L1017.01 820.74Z" fill="#4472C4" stroke="#fff" stroke-width="0.45"/>
<path d="M1030.42 817.81L1037.02 824.41L1030.42 831.01L1023.82 824.41Z" fill="#4472C4" stroke="#fff" stroke-width="0.45"/>
<path d="M1037.23 815.61L1043.83 822.21L1037.23 828.81L1030.63 822.21Z" fill="#4472C4" stroke="#fff" stroke-width="0.45"/>
<path d="M1044.05 815.61L1050.65 822.21L1044.05 828.81L1037.45 822.21Z" fill="#4472C4" stroke="#fff" stroke-width="0.45"/>
<path d="M1050.86 819.28L1057.46 825.88L1050.86 832.48L1044.26 825.88Z" fill="#4472C4" stroke="#fff" stroke-width="0.45"/>
<path d="M1057.67 820.75L1064.27 827.35L1057.67 833.95L1051.07 827.35Z" fill="#4472C4" stroke="#fff" stroke-width="0.45"/>
<path d="M1064.49 821.34L1071.09 827.94L1064.49 834.54L1057.89 827.94Z" fill="#4472C4" stroke="#fff" stroke-width="0.45"/>
<path d="M1071.3 819.87L1077.9 826.47L1071.3 833.07L1064.7 826.47Z" fill="#4472C4" stroke="#fff" stroke-width="0.45"/>
<path d="M1078.11 816.93L1084.71 823.53L1078.11 830.13L1071.51 823.53Z" fill="#4472C4" stroke="#fff" stroke-width="0.45"/>
<path d="M1084.93 817.66L1091.53 824.26L1084.93 830.86L1078.33 824.26Z" fill="#4472C4" stroke="#fff" stroke-width="0.45"/>
<path d="M1091.74 818.4L1098.34 825L1091.74 831.6L1085.14 825Z" fill="#4472C4" stroke="#fff" stroke-width="0.45"/>
<path d="M1098.55 817.66L1105.15 824.26L1098.55 830.86L1091.95 824.26Z" fill="#4472C4" stroke="#fff" stroke-width="0.45"/>
<path d="M1105.37 818.4L1111.97 825L1105.37 831.6L1098.77 825Z" fill="#4472C4" stroke="#fff" stroke-width="0.45"/>
<path d="M1112.18 815.46L1118.78 822.06L1112.18 828.66L1105.58 822.06Z" fill="#4472C4" stroke="#fff" stroke-width="0.45"/>
<path d="M1118.99 816.93L1125.59 823.53L1118.99 830.13L1112.39 823.53Z" fill="#4472C4" stroke="#fff" stroke-width="0.45"/>
<path d="M1125.81 818.4L1132.41 825L1125.81 831.6L1119.21 825Z" fill="#4472C4" stroke="#fff" stroke-width="0.45"/>
<path d="M1132.62 810.31L1139.22 816.91L1132.62 823.51L1126.02 816.91Z" fill="#4472C4" stroke="#fff" stroke-width="0.45"/>
<path d="M1139.43 816.93L1146.03 823.53L1139.43 830.13L1132.83 823.53Z" fill="#4472C4" stroke="#fff" stroke-width="0.45"/>
<path d="M1146.25 818.4L1152.85 825L1146.25 831.6L1139.65 825Z" fill="#4472C4" stroke="#fff" stroke-width="0.45"/>
<path d="M1153.06 818.4L1159.66 825L1153.06 831.6L1146.46 825Z" fill="#4472C4" stroke="#fff" stroke-width="0.45"/>
<path d="M1159.87 819.87L1166.47 826.47L1159.87 833.07L1153.27 826.47Z" fill="#4472C4" stroke="#fff" stroke-width="0.45"/>
<path d="M1166.69 821.34L1173.29 827.94L1166.69 834.54L1160.09 827.94Z" fill="#4472C4" stroke="#fff" stroke-width="0.45"/>
<path d="M1173.5 818.4L1180.1 825L1173.5 831.6L1166.9 825Z" fill="#4472C4" stroke="#fff" stroke-width="0.45"/>
<path d="M1180.31 807.37L1186.91 813.97L1180.31 820.57L1173.71 813.97Z" fill="#4472C4" stroke="#fff" stroke-width="0.45"/>
<path d="M1187.13 813.99L1193.73 820.59L1187.13 827.19L1180.53 820.59Z" fill="#4472C4" stroke="#fff" stroke-width="0.45"/>
<path d="M1193.94 805.16L1200.54 811.76L1193.94 818.36L1187.34 811.76Z" fill="#4472C4" stroke="#fff" stroke-width="0.45"/>
<path d="M1200.75 816.19L1207.35 822.79L1200.75 829.39L1194.15 822.79Z" fill="#4472C4" stroke="#fff" stroke-width="0.45"/>
<path d="M1207.57 813.99L1214.17 820.59L1207.57 827.19L1200.97 820.59Z" fill="#4472C4" stroke="#fff" stroke-width="0.45"/>
<path d="M1214.38 808.11L1220.98 814.71L1214.38 821.31L1207.78 814.71Z" fill="#4472C4" stroke="#fff" stroke-width="0.45"/>
<path d="M1221.19 811.05L1227.79 817.65L1221.19 824.25L1214.59 817.65Z" fill="#4472C4" stroke="#fff" stroke-width="0.45"/>
<path d="M1228.01 810.31L1234.61 816.91L1228.01 823.51L1221.41 816.91Z" fill="#4472C4" stroke="#fff" stroke-width="0.45"/>
<path d="M1234.82 810.31L1241.42 816.91L1234.82 823.51L1228.22 816.91Z" fill="#4472C4" stroke="#fff" stroke-width="0.45"/>
<path d="M1241.63 808.11L1248.23 814.71L1241.63 821.31L1235.03 814.71Z" fill="#4472C4" stroke="#fff" stroke-width="0.45"/>
<path d="M1248.45 805.16L1255.05 811.76L1248.45 818.36L1241.85 811.76Z" fill="#4472C4" stroke="#fff" stroke-width="0.45"/>
<path d="M1255.26 801L1261.86 807.6L1255.26 814.2L1248.66 807.6Z" fill="#4472C4" stroke="#fff" stroke-width="0.45"/>
<path d="M1262.07 803.37L1268.67 809.97L1262.07 816.57L1255.47 809.97Z" fill="#4472C4" stroke="#fff" stroke-width="0.45"/>
<path d="M1268.89 803.37L1275.49 809.97L1268.89 816.57L1262.29 809.97Z" fill="#4472C4" stroke="#fff" stroke-width="0.45"/>
<path d="M1275.7 799.81L1282.3 806.41L1275.7 813.01L1269.1 806.41Z" fill="#4472C4" stroke="#fff" stroke-width="0.45"/>
<path d="M1282.51 802.18L1289.11 808.78L1282.51 815.38L1275.91 808.78Z" fill="#4472C4" stroke="#fff" stroke-width="0.45"/>
<path d="M1289.33 798.62L1295.93 805.22L1289.33 811.82L1282.73 805.22Z" fill="#4472C4" stroke="#fff" stroke-width="0.45"/>
<path d="M1296.14 797.44L1302.74 804.04L1296.14 810.64L1289.54 804.04Z" fill="#4472C4" stroke="#fff" stroke-width="0.45"/>
<path d="M1302.95 795.06L1309.55 801.66L1302.95 808.26L1296.35 801.66Z" fill="#4472C4" stroke="#fff" stroke-width="0.45"/>
<path d="M1309.77 792.69L1316.37 799.29L1309.77 805.89L1303.17 799.29Z" fill="#4472C4" stroke="#fff" stroke-width="0.45"/>
<path d="M1316.58 789.13L1323.18 795.73L1316.58 802.33L1309.98 795.73Z" fill="#4472C4" stroke="#fff" stroke-width="0.45"/>
<path d="M1323.39 786.75L1329.99 793.35L1323.39 799.95L1316.79 793.35Z" fill="#4472C4" stroke="#fff" stroke-width="0.45"/>
<path d="M1330.21 784.38L1336.81 790.98L1330.21 797.58L1323.61 790.98Z" fill="#4472C4" stroke="#fff" stroke-width="0.45"/>
<path d="M1337.02 783.19L1343.62 789.79L1337.02 796.39L1330.42 789.79Z" fill="#4472C4" stroke="#fff" stroke-width="0.45"/>
<path d="M1343.83 783.19L1350.43 789.79L1343.83 796.39L1337.23 789.79Z" fill="#4472C4" stroke="#fff" stroke-width="0.45"/>
<path d="M1350.65 782L1357.25 788.6L1350.65 795.2L1344.05 788.6Z" fill="#4472C4" stroke="#fff" stroke-width="0.45"/>
<path d="M1357.46 777.26L1364.06 783.86L1357.46 790.46L1350.86 783.86Z" fill="#4472C4" stroke="#fff" stroke-width="0.45"/>
<path d="M1364.27 774.88L1370.87 781.48L1364.27 788.08L1357.67 781.48Z" fill="#4472C4" stroke="#fff" stroke-width="0.45"/>
<path d="M1371.09 771.32L1377.69 777.92L1371.09 784.52L1364.49 777.92Z" fill="#4472C4" stroke="#fff" stroke-width="0.45"/>
<path d="M1377.9 768.95L1384.5 775.55L1377.9 782.15L1371.3 775.55Z" fill="#4472C4" stroke="#fff" stroke-width="0.45"/>
<path d="M1384.71 766.57L1391.31 773.17L1384.71 779.77L1378.11 773.17Z" fill="#4472C4" stroke="#fff" stroke-width="0.45"/>
<path d="M1391.53 759.45L1398.13 766.05L1391.53 772.65L1384.93 766.05Z" fill="#4472C4" stroke="#fff" stroke-width="0.45"/>
<path d="M1398.34 757.08L1404.94 763.68L1398.34 770.28L1391.74 763.68Z" fill="#4472C4" stroke="#fff" stroke-width="0.45"/>
<path d="M1405.15 754.7L1411.75 761.3L1405.15 767.9L1398.55 761.3Z" fill="#4472C4" stroke="#fff" stroke-width="0.45"/>
<path d="M1411.97 751.14L1418.57 757.74L1411.97 764.34L1405.37 757.74Z" fill="#4472C4" stroke="#fff" stroke-width="0.45"/>
<path d="M1418.78 747.58L1425.38 754.18L1418.78 760.78L1412.18 754.18Z" fill="#4472C4" stroke="#fff" stroke-width="0.45"/>
<path d="M1425.59 744.02L1432.19 750.62L1425.59 757.22L1418.99 750.62Z" fill="#4472C4" stroke="#fff" stroke-width="0.45"/>
<path d="M1432.41 740.46L1439.01 747.06L1432.41 753.66L1425.81 747.06Z" fill="#4472C4" stroke="#fff" stroke-width="0.45"/>
<path d="M1439.22 736.89L1445.82 743.49L1439.22 750.09L1432.62 743.49Z" fill="#4472C4" stroke="#fff" stroke-width="0.45"/>
<path d="M1446.03 732.15L1452.63 738.75L1446.03 745.35L1439.43 738.75Z" fill="#4472C4" stroke="#fff" stroke-width="0.45"/>
<path d="M1452.85 727.4L1459.45 734L1452.85 740.6L1446.25 734Z" fill="#4472C4" stroke="#fff" stroke-width="0.45"/>
<path d="M1459.66 716.71L1466.26 723.31L1459.66 729.91L1453.06 723.31Z" fill="#4472C4" stroke="#fff" stroke-width="0.45"/>
<path d="M1466.47 614.63L1473.07 621.23L1466.47 627.83L1459.87 621.23Z" fill="#4472C4" stroke="#fff" stroke-width="0.45"/>
<path d="M1473.29 843.73L1479.89 850.33L1473.29 856.93L1466.69 850.33Z" fill="#4472C4" stroke="#fff" stroke-width="0.45"/>
<circle cx="866.9" cy="835.44" r="6.4" fill="#000" stroke="none" stroke-width="0"/>
<circle cx="873.71" cy="835.53" r="6.4" fill="#000" stroke="none" stroke-width="0"/>
<circle cx="880.53" cy="835.62" r="6.4" fill="#000" stroke="none" stroke-width="0"/>
<circle cx="887.34" cy="835.71" r="6.4" fill="#000" stroke="none" stroke-width="0"/>
<circle cx="894.15" cy="835.79" r="6.4" fill="#000" stroke="none" stroke-width="0"/>
<circle cx="900.97" cy="835.88" r="6.4" fill="#000" stroke="none" stroke-width="0"/>
<circle cx="907.78" cy="835.85" r="6.4" fill="#000" stroke="none" stroke-width="0"/>
<circle cx="914.59" cy="835.82" r="6.4" fill="#000" stroke="none" stroke-width="0"/>
<circle cx="921.41" cy="835.79" r="6.4" fill="#000" stroke="none" stroke-width="0"/>
<circle cx="928.22" cy="835.76" r="6.4" fill="#000" stroke="none" stroke-width="0"/>
<circle cx="935.03" cy="835.74" r="6.4" fill="#000" stroke="none" stroke-width="0"/>
<circle cx="941.85" cy="835.82" r="6.4" fill="#000" stroke="none" stroke-width="0"/>
<circle cx="948.66" cy="835.91" r="6.4" fill="#000" stroke="none" stroke-width="0"/>
<circle cx="955.47" cy="836" r="6.4" fill="#000" stroke="none" stroke-width="0"/>
<circle cx="962.29" cy="836.09" r="6.4" fill="#000" stroke="none" stroke-width="0"/>
<circle cx="969.1" cy="836.18" r="6.4" fill="#000" stroke="none" stroke-width="0"/>
<circle cx="975.91" cy="836.18" r="6.4" fill="#000" stroke="none" stroke-width="0"/>
<circle cx="982.73" cy="836.18" r="6.4" fill="#000" stroke="none" stroke-width="0"/>
<circle cx="989.54" cy="836.18" r="6.4" fill="#000" stroke="none" stroke-width="0"/>
<circle cx="996.35" cy="836.18" r="6.4" fill="#000" stroke="none" stroke-width="0"/>
<circle cx="1003.17" cy="836.18" r="6.4" fill="#000" stroke="none" stroke-width="0"/>
<circle cx="1009.98" cy="836.11" r="6.4" fill="#000" stroke="none" stroke-width="0"/>
<circle cx="1016.79" cy="836.05" r="6.4" fill="#000" stroke="none" stroke-width="0"/>
<circle cx="1023.61" cy="835.99" r="6.4" fill="#000" stroke="none" stroke-width="0"/>
<circle cx="1030.42" cy="835.92" r="6.4" fill="#000" stroke="none" stroke-width="0"/>
<circle cx="1037.23" cy="835.86" r="6.4" fill="#000" stroke="none" stroke-width="0"/>
<circle cx="1044.05" cy="835.8" r="6.4" fill="#000" stroke="none" stroke-width="0"/>
<circle cx="1050.86" cy="835.74" r="6.4" fill="#000" stroke="none" stroke-width="0"/>
<circle cx="1057.67" cy="837.5" r="6.4" fill="#000" stroke="none" stroke-width="0"/>
<circle cx="1064.49" cy="836.4" r="6.4" fill="#000" stroke="none" stroke-width="0"/>
<circle cx="1071.3" cy="836" r="6.4" fill="#000" stroke="none" stroke-width="0"/>
<circle cx="1078.11" cy="835.3" r="6.4" fill="#000" stroke="none" stroke-width="0"/>
<circle cx="1084.93" cy="834.6" r="6.4" fill="#000" stroke="none" stroke-width="0"/>
<circle cx="1091.74" cy="834.3" r="6.4" fill="#000" stroke="none" stroke-width="0"/>
<circle cx="1098.55" cy="833.7" r="6.4" fill="#000" stroke="none" stroke-width="0"/>
<circle cx="1105.37" cy="832.7" r="6.4" fill="#000" stroke="none" stroke-width="0"/>
<circle cx="1112.18" cy="832.5" r="6.4" fill="#000" stroke="none" stroke-width="0"/>
<circle cx="1118.99" cy="831.8" r="6.4" fill="#000" stroke="none" stroke-width="0"/>
<circle cx="1125.81" cy="830.7" r="6.4" fill="#000" stroke="none" stroke-width="0"/>
<circle cx="1132.62" cy="830" r="6.4" fill="#000" stroke="none" stroke-width="0"/>
<circle cx="1139.43" cy="829" r="6.4" fill="#000" stroke="none" stroke-width="0"/>
<circle cx="1146.25" cy="827.9" r="6.4" fill="#000" stroke="none" stroke-width="0"/>
<circle cx="1153.06" cy="825.7" r="6.4" fill="#000" stroke="none" stroke-width="0"/>
<circle cx="1159.87" cy="825.1" r="6.4" fill="#000" stroke="none" stroke-width="0"/>
<circle cx="1166.69" cy="822.9" r="6.4" fill="#000" stroke="none" stroke-width="0"/>
<circle cx="1173.5" cy="820.8" r="6.4" fill="#000" stroke="none" stroke-width="0"/>
<circle cx="1180.31" cy="819" r="6.4" fill="#000" stroke="none" stroke-width="0"/>
<circle cx="1187.13" cy="817.5" r="6.4" fill="#000" stroke="none" stroke-width="0"/>
<circle cx="1193.94" cy="813.9" r="6.4" fill="#000" stroke="none" stroke-width="0"/>
<circle cx="1200.75" cy="811.8" r="6.4" fill="#000" stroke="none" stroke-width="0"/>
<circle cx="1207.57" cy="808.5" r="6.4" fill="#000" stroke="none" stroke-width="0"/>
<circle cx="1214.38" cy="804.3" r="6.4" fill="#000" stroke="none" stroke-width="0"/>
<circle cx="1221.19" cy="801.3" r="6.4" fill="#000" stroke="none" stroke-width="0"/>
<circle cx="1228.01" cy="797.1" r="6.4" fill="#000" stroke="none" stroke-width="0"/>
<circle cx="1234.82" cy="792.9" r="6.4" fill="#000" stroke="none" stroke-width="0"/>
<circle cx="1241.63" cy="788.6" r="6.4" fill="#000" stroke="none" stroke-width="0"/>
<circle cx="1248.45" cy="782.3" r="6.4" fill="#000" stroke="none" stroke-width="0"/>
<circle cx="1255.26" cy="775" r="6.4" fill="#000" stroke="none" stroke-width="0"/>
<circle cx="1262.07" cy="768.8" r="6.4" fill="#000" stroke="none" stroke-width="0"/>
<circle cx="1268.89" cy="761.9" r="6.4" fill="#000" stroke="none" stroke-width="0"/>
<circle cx="1275.7" cy="754" r="6.4" fill="#000" stroke="none" stroke-width="0"/>
<circle cx="1282.51" cy="744.3" r="6.4" fill="#000" stroke="none" stroke-width="0"/>
<circle cx="1289.33" cy="734.8" r="6.4" fill="#000" stroke="none" stroke-width="0"/>
<circle cx="1296.14" cy="725.7" r="6.4" fill="#000" stroke="none" stroke-width="0"/>
<circle cx="1302.95" cy="715.7" r="6.4" fill="#000" stroke="none" stroke-width="0"/>
<circle cx="1309.77" cy="703.13" r="6.4" fill="#000" stroke="none" stroke-width="0"/>
<circle cx="1316.58" cy="692.45" r="6.4" fill="#000" stroke="none" stroke-width="0"/>
<circle cx="1323.39" cy="682.95" r="6.4" fill="#000" stroke="none" stroke-width="0"/>
<circle cx="1330.21" cy="673.46" r="6.4" fill="#000" stroke="none" stroke-width="0"/>
<circle cx="1337.02" cy="663.96" r="6.4" fill="#000" stroke="none" stroke-width="0"/>
<circle cx="1343.83" cy="656.84" r="6.4" fill="#000" stroke="none" stroke-width="0"/>
<circle cx="1350.65" cy="649.72" r="6.4" fill="#000" stroke="none" stroke-width="0"/>
<circle cx="1357.46" cy="646.15" r="6.4" fill="#000" stroke="none" stroke-width="0"/>
<circle cx="1364.27" cy="646.15" r="6.4" fill="#000" stroke="none" stroke-width="0"/>
<circle cx="1371.09" cy="647.34" r="6.4" fill="#000" stroke="none" stroke-width="0"/>
<circle cx="1377.9" cy="652.09" r="6.4" fill="#000" stroke="none" stroke-width="0"/>
<circle cx="1384.71" cy="659.21" r="6.4" fill="#000" stroke="none" stroke-width="0"/>
<circle cx="1391.53" cy="673.46" r="6.4" fill="#000" stroke="none" stroke-width="0"/>
<circle cx="1398.34" cy="692.45" r="6.4" fill="#000" stroke="none" stroke-width="0"/>
<circle cx="1405.15" cy="713.82" r="6.4" fill="#000" stroke="none" stroke-width="0"/>
<circle cx="1411.97" cy="726.88" r="6.4" fill="#000" stroke="none" stroke-width="0"/>
<circle cx="1418.78" cy="732.81" r="6.4" fill="#000" stroke="none" stroke-width="0"/>
<circle cx="1425.59" cy="736.37" r="6.4" fill="#000" stroke="none" stroke-width="0"/>
<circle cx="1432.41" cy="732.81" r="6.4" fill="#000" stroke="none" stroke-width="0"/>
<circle cx="1439.22" cy="725.69" r="6.4" fill="#000" stroke="none" stroke-width="0"/>
<circle cx="1446.03" cy="713.82" r="6.4" fill="#000" stroke="none" stroke-width="0"/>
<circle cx="1452.85" cy="699.57" r="6.4" fill="#000" stroke="none" stroke-width="0"/>
<circle cx="1459.66" cy="679.39" r="6.4" fill="#000" stroke="none" stroke-width="0"/>
<circle cx="1466.47" cy="561.87" r="6.4" fill="#000" stroke="none" stroke-width="0"/>
<circle cx="1473.29" cy="824.22" r="6.4" fill="#000" stroke="none" stroke-width="0"/>
<circle cx="1480.1" cy="876.45" r="6.4" fill="#000" stroke="none" stroke-width="0"/>
<line x1="692.2" y1="414.2" x2="717.6" y2="414.2" stroke="#000" stroke-width="3.2"/>
<rect x="250.9" y="62.5" width="227.7" height="36.8" fill="#fff" stroke="#000" stroke-width="1.8"/>
<text x="256.5" y="90.1" font-family="Liberation Sans, sans-serif" font-weight="bold" font-size="22" textLength="217" lengthAdjust="spacingAndGlyphs">average (all azimuth)</text>
<rect x="1056.8" y="62.6" width="140.8" height="36.1" fill="#fff" stroke="#000" stroke-width="1.8"/>
<text x="1063.5" y="89.7" font-family="Liberation Sans, sans-serif" font-weight="bold" font-size="22" textLength="128" lengthAdjust="spacingAndGlyphs">North (350°)</text>
<rect x="294.4" y="530.8" width="140.8" height="36.1" fill="#fff" stroke="#000" stroke-width="1.8"/>
<text x="300.5" y="558.5" font-family="Liberation Sans, sans-serif" font-weight="bold" font-size="22" textLength="128" lengthAdjust="spacingAndGlyphs">South (160°)</text>
<rect x="1060.5" y="530.8" width="132.9" height="36.4" fill="#fff" stroke="#000" stroke-width="1.8"/>
<text x="1066.5" y="558.3" font-family="Liberation Sans, sans-serif" font-weight="bold" font-size="22" textLength="121" lengthAdjust="spacingAndGlyphs">West (280°)</text>
<rect x="124.9" y="98.1" width="98" height="83.3" fill="#fff" stroke="#000" stroke-width="1.6"/>
<path d="M142.9 112.4L149.1 118.6L142.9 124.8L136.7 118.6Z" fill="#4472C4" stroke="none" stroke-width="0"/>
<circle cx="142.9" cy="160.3" r="6.4" fill="#000" stroke="none" stroke-width="0"/>
<text x="155" y="124.9" font-family="Liberation Sans, sans-serif" font-weight="bold" font-size="21" textLength="44.1" lengthAdjust="spacingAndGlyphs">clear</text>
<text x="155" y="166.3" font-family="Liberation Sans, sans-serif" font-weight="bold" font-size="21" textLength="58.9" lengthAdjust="spacingAndGlyphs">clouds</text>
<rect x="893.6" y="84.9" width="91.9" height="86.1" fill="#fff" stroke="#000" stroke-width="1.6"/>
<path d="M909.1 100.2L915.3 106.4L909.1 112.6L902.9 106.4Z" fill="#4472C4" stroke="none" stroke-width="0"/>
<circle cx="909.1" cy="149.5" r="6.4" fill="#000" stroke="none" stroke-width="0"/>
<text x="920.6" y="113.4" font-family="Liberation Sans, sans-serif" font-weight="bold" font-size="21" textLength="44.1" lengthAdjust="spacingAndGlyphs">clear</text>
<text x="920.6" y="156.2" font-family="Liberation Sans, sans-serif" font-weight="bold" font-size="21" textLength="58.9" lengthAdjust="spacingAndGlyphs">clouds</text>
<rect x="131.3" y="554.1" width="91.6" height="85.8" fill="#fff" stroke="#000" stroke-width="1.6"/>
<path d="M146.6 569L152.8 575.2L146.6 581.4L140.4 575.2Z" fill="#4472C4" stroke="none" stroke-width="0"/>
<circle cx="146.6" cy="618" r="6.4" fill="#000" stroke="none" stroke-width="0"/>
<text x="158.2" y="581.5" font-family="Liberation Sans, sans-serif" font-weight="bold" font-size="21" textLength="44.1" lengthAdjust="spacingAndGlyphs">clear</text>
<text x="158.2" y="623.6" font-family="Liberation Sans, sans-serif" font-weight="bold" font-size="21" textLength="58.9" lengthAdjust="spacingAndGlyphs">clouds</text>
<rect x="891" y="562" width="98.9" height="82.8" fill="#fff" stroke="#000" stroke-width="1.6"/>
<path d="M910 576.4L916.2 582.6L910 588.8L903.8 582.6Z" fill="#4472C4" stroke="none" stroke-width="0"/>
<circle cx="910" cy="624.3" r="6.4" fill="#000" stroke="none" stroke-width="0"/>
<text x="921.4" y="588.5" font-family="Liberation Sans, sans-serif" font-weight="bold" font-size="21" textLength="44.1" lengthAdjust="spacingAndGlyphs">clear</text>
<text x="921.4" y="630" font-family="Liberation Sans, sans-serif" font-weight="bold" font-size="21" textLength="58.9" lengthAdjust="spacingAndGlyphs">clouds</text>
<text x="319.4" y="489.5" font-family="Liberation Sans, sans-serif" font-weight="bold" font-size="25.7" textLength="183" lengthAdjust="spacingAndGlyphs">Zenith angle [°]</text>
<text transform="translate(41,370.7) rotate(-90)" font-family="Liberation Sans, sans-serif" font-weight="bold" font-size="27" textLength="252" lengthAdjust="spacingAndGlyphs">Luminance [mcd/m²]</text>
<text x="1082" y="489.5" font-family="Liberation Sans, sans-serif" font-weight="bold" font-size="25.7" textLength="183" lengthAdjust="spacingAndGlyphs">Zenith angle [°]</text>
<text transform="translate(803.6,370.7) rotate(-90)" font-family="Liberation Sans, sans-serif" font-weight="bold" font-size="27" textLength="252" lengthAdjust="spacingAndGlyphs">Luminance [mcd/m²]</text>
<text x="319.4" y="958.3" font-family="Liberation Sans, sans-serif" font-weight="bold" font-size="25.7" textLength="183" lengthAdjust="spacingAndGlyphs">Zenith angle [°]</text>
<text transform="translate(41,839.5) rotate(-90)" font-family="Liberation Sans, sans-serif" font-weight="bold" font-size="27" textLength="252" lengthAdjust="spacingAndGlyphs">Luminance [mcd/m²]</text>
<text x="1082" y="957.4" font-family="Liberation Sans, sans-serif" font-weight="bold" font-size="25.7" textLength="183" lengthAdjust="spacingAndGlyphs">Zenith angle [°]</text>
<text transform="translate(803.6,838.6) rotate(-90)" font-family="Liberation Sans, sans-serif" font-weight="bold" font-size="27" textLength="252" lengthAdjust="spacingAndGlyphs">Luminance [mcd/m²]</text>
<text x="-1.5" y="471.5" font-family="Liberation Sans, sans-serif" font-size="30">a)</text>
<text x="765.4" y="471.5" font-family="Liberation Sans, sans-serif" font-size="30">b)</text>
<text x="1.5" y="952.5" font-family="Liberation Sans, sans-serif" font-size="30">c)</text>
<text x="768.0" y="952.5" font-family="Liberation Sans, sans-serif" font-size="30">d)</text>
<rect x="413.85" y="1010.3" width="613.55" height="339" fill="none" stroke="#000" stroke-width="2.7"/>
<line x1="413.85" y1="1349.3" x2="413.85" y2="1356.3" stroke="#000" stroke-width="2.7"/>
<text x="413.85" y="1385.5" font-family="Liberation Sans, sans-serif" font-weight="bold" font-size="21" text-anchor="middle">0</text>
<line x1="447.94" y1="1349.3" x2="447.94" y2="1354.5" stroke="#000" stroke-width="2.7"/>
<line x1="482.02" y1="1349.3" x2="482.02" y2="1356.3" stroke="#000" stroke-width="2.7"/>
<text x="482.02" y="1385.5" font-family="Liberation Sans, sans-serif" font-weight="bold" font-size="21" text-anchor="middle">10</text>
<line x1="516.11" y1="1349.3" x2="516.11" y2="1354.5" stroke="#000" stroke-width="2.7"/>
<line x1="550.19" y1="1349.3" x2="550.19" y2="1356.3" stroke="#000" stroke-width="2.7"/>
<text x="550.19" y="1385.5" font-family="Liberation Sans, sans-serif" font-weight="bold" font-size="21" text-anchor="middle">20</text>
<line x1="584.28" y1="1349.3" x2="584.28" y2="1354.5" stroke="#000" stroke-width="2.7"/>
<line x1="618.37" y1="1349.3" x2="618.37" y2="1356.3" stroke="#000" stroke-width="2.7"/>
<text x="618.37" y="1385.5" font-family="Liberation Sans, sans-serif" font-weight="bold" font-size="21" text-anchor="middle">30</text>
<line x1="652.45" y1="1349.3" x2="652.45" y2="1354.5" stroke="#000" stroke-width="2.7"/>
<line x1="686.54" y1="1349.3" x2="686.54" y2="1356.3" stroke="#000" stroke-width="2.7"/>
<text x="686.54" y="1385.5" font-family="Liberation Sans, sans-serif" font-weight="bold" font-size="21" text-anchor="middle">40</text>
<line x1="720.62" y1="1349.3" x2="720.62" y2="1354.5" stroke="#000" stroke-width="2.7"/>
<line x1="754.71" y1="1349.3" x2="754.71" y2="1356.3" stroke="#000" stroke-width="2.7"/>
<text x="754.71" y="1385.5" font-family="Liberation Sans, sans-serif" font-weight="bold" font-size="21" text-anchor="middle">50</text>
<line x1="788.8" y1="1349.3" x2="788.8" y2="1354.5" stroke="#000" stroke-width="2.7"/>
<line x1="822.88" y1="1349.3" x2="822.88" y2="1356.3" stroke="#000" stroke-width="2.7"/>
<text x="822.88" y="1385.5" font-family="Liberation Sans, sans-serif" font-weight="bold" font-size="21" text-anchor="middle">60</text>
<line x1="856.97" y1="1349.3" x2="856.97" y2="1354.5" stroke="#000" stroke-width="2.7"/>
<line x1="891.06" y1="1349.3" x2="891.06" y2="1356.3" stroke="#000" stroke-width="2.7"/>
<text x="891.06" y="1385.5" font-family="Liberation Sans, sans-serif" font-weight="bold" font-size="21" text-anchor="middle">70</text>
<line x1="925.14" y1="1349.3" x2="925.14" y2="1354.5" stroke="#000" stroke-width="2.7"/>
<line x1="959.23" y1="1349.3" x2="959.23" y2="1356.3" stroke="#000" stroke-width="2.7"/>
<text x="959.23" y="1385.5" font-family="Liberation Sans, sans-serif" font-weight="bold" font-size="21" text-anchor="middle">80</text>
<line x1="993.31" y1="1349.3" x2="993.31" y2="1354.5" stroke="#000" stroke-width="2.7"/>
<line x1="1027.4" y1="1349.3" x2="1027.4" y2="1356.3" stroke="#000" stroke-width="2.7"/>
<text x="1027.4" y="1385.5" font-family="Liberation Sans, sans-serif" font-weight="bold" font-size="21" text-anchor="middle">90</text>
<line x1="406.85" y1="1349.3" x2="413.85" y2="1349.3" stroke="#000" stroke-width="2.7"/>
<text x="393.45" y="1355.8" font-family="Liberation Sans, sans-serif" font-weight="bold" font-size="21" text-anchor="end">0</text>
<line x1="408.65" y1="1318.48" x2="413.85" y2="1318.48" stroke="#000" stroke-width="2.7"/>
<line x1="406.85" y1="1287.66" x2="413.85" y2="1287.66" stroke="#000" stroke-width="2.7"/>
<text x="393.45" y="1294.16" font-family="Liberation Sans, sans-serif" font-weight="bold" font-size="21" text-anchor="end">1</text>
<line x1="408.65" y1="1256.85" x2="413.85" y2="1256.85" stroke="#000" stroke-width="2.7"/>
<line x1="406.85" y1="1226.03" x2="413.85" y2="1226.03" stroke="#000" stroke-width="2.7"/>
<text x="393.45" y="1232.53" font-family="Liberation Sans, sans-serif" font-weight="bold" font-size="21" text-anchor="end">2</text>
<line x1="408.65" y1="1195.21" x2="413.85" y2="1195.21" stroke="#000" stroke-width="2.7"/>
<line x1="406.85" y1="1164.39" x2="413.85" y2="1164.39" stroke="#000" stroke-width="2.7"/>
<text x="393.45" y="1170.89" font-family="Liberation Sans, sans-serif" font-weight="bold" font-size="21" text-anchor="end">3</text>
<line x1="408.65" y1="1133.57" x2="413.85" y2="1133.57" stroke="#000" stroke-width="2.7"/>
<line x1="406.85" y1="1102.75" x2="413.85" y2="1102.75" stroke="#000" stroke-width="2.7"/>
<text x="393.45" y="1109.25" font-family="Liberation Sans, sans-serif" font-weight="bold" font-size="21" text-anchor="end">4</text>
<line x1="408.65" y1="1071.94" x2="413.85" y2="1071.94" stroke="#000" stroke-width="2.7"/>
<line x1="406.85" y1="1041.12" x2="413.85" y2="1041.12" stroke="#000" stroke-width="2.7"/>
<text x="393.45" y="1047.62" font-family="Liberation Sans, sans-serif" font-weight="bold" font-size="21" text-anchor="end">5</text>
<line x1="408.65" y1="1010.3" x2="413.85" y2="1010.3" stroke="#000" stroke-width="2.7"/>
<rect x="408.65" y="1240.36" width="10.4" height="10.4" fill="#000"/>
<rect x="415.47" y="1238.65" width="10.4" height="10.4" fill="#000"/>
<rect x="422.28" y="1251.48" width="10.4" height="10.4" fill="#000"/>
<rect x="429.1" y="1257.9" width="10.4" height="10.4" fill="#000"/>
<rect x="435.92" y="1263.46" width="10.4" height="10.4" fill="#000"/>
<rect x="442.74" y="1238.65" width="10.4" height="10.4" fill="#000"/>
<rect x="449.55" y="1262.18" width="10.4" height="10.4" fill="#000"/>
<rect x="456.37" y="1264.32" width="10.4" height="10.4" fill="#000"/>
<rect x="463.19" y="1249.35" width="10.4" height="10.4" fill="#000"/>
<rect x="470.01" y="1250.63" width="10.4" height="10.4" fill="#000"/>
<rect x="476.82" y="1265.17" width="10.4" height="10.4" fill="#000"/>
<rect x="483.64" y="1264.32" width="10.4" height="10.4" fill="#000"/>
<rect x="490.46" y="1260.04" width="10.4" height="10.4" fill="#000"/>
<rect x="497.27" y="1260.04" width="10.4" height="10.4" fill="#000"/>
<rect x="504.09" y="1255.76" width="10.4" height="10.4" fill="#000"/>
<rect x="510.91" y="1272.02" width="10.4" height="10.4" fill="#000"/>
<rect x="517.73" y="1272.02" width="10.4" height="10.4" fill="#000"/>
<rect x="524.54" y="1266.46" width="10.4" height="10.4" fill="#000"/>
<rect x="531.36" y="1260.04" width="10.4" height="10.4" fill="#000"/>
<rect x="538.18" y="1251.48" width="10.4" height="10.4" fill="#000"/>
<rect x="544.99" y="1275.87" width="10.4" height="10.4" fill="#000"/>
<rect x="551.81" y="1273.73" width="10.4" height="10.4" fill="#000"/>
<rect x="558.63" y="1272.87" width="10.4" height="10.4" fill="#000"/>
<rect x="565.45" y="1268.6" width="10.4" height="10.4" fill="#000"/>
<rect x="572.26" y="1270.74" width="10.4" height="10.4" fill="#000"/>
<rect x="579.08" y="1274.16" width="10.4" height="10.4" fill="#000"/>
<rect x="585.9" y="1272.87" width="10.4" height="10.4" fill="#000"/>
<rect x="592.72" y="1264.32" width="10.4" height="10.4" fill="#000"/>
<rect x="599.53" y="1255.76" width="10.4" height="10.4" fill="#000"/>
<rect x="606.35" y="1253.62" width="10.4" height="10.4" fill="#000"/>
<rect x="613.17" y="1262.18" width="10.4" height="10.4" fill="#000"/>
<rect x="619.98" y="1262.18" width="10.4" height="10.4" fill="#000"/>
<rect x="626.8" y="1262.18" width="10.4" height="10.4" fill="#000"/>
<rect x="633.62" y="1260.04" width="10.4" height="10.4" fill="#000"/>
<rect x="640.44" y="1260.04" width="10.4" height="10.4" fill="#000"/>
<rect x="647.25" y="1262.18" width="10.4" height="10.4" fill="#000"/>
<rect x="654.07" y="1241.64" width="10.4" height="10.4" fill="#000"/>
<rect x="660.89" y="1260.9" width="10.4" height="10.4" fill="#000"/>
<rect x="667.7" y="1255.76" width="10.4" height="10.4" fill="#000"/>
<rect x="674.52" y="1253.62" width="10.4" height="10.4" fill="#000"/>
<rect x="681.34" y="1251.48" width="10.4" height="10.4" fill="#000"/>
<rect x="688.16" y="1247.21" width="10.4" height="10.4" fill="#000"/>
<rect x="694.97" y="1238.65" width="10.4" height="10.4" fill="#000"/>
<rect x="701.79" y="1247.21" width="10.4" height="10.4" fill="#000"/>
<rect x="708.61" y="1242.07" width="10.4" height="10.4" fill="#000"/>
<rect x="715.42" y="1240.79" width="10.4" height="10.4" fill="#000"/>
<rect x="722.24" y="1242.07" width="10.4" height="10.4" fill="#000"/>
<rect x="729.06" y="1230.09" width="10.4" height="10.4" fill="#000"/>
<rect x="735.88" y="1238.65" width="10.4" height="10.4" fill="#000"/>
<rect x="742.69" y="1232.23" width="10.4" height="10.4" fill="#000"/>
<rect x="749.51" y="1232.23" width="10.4" height="10.4" fill="#000"/>
<rect x="756.33" y="1225.82" width="10.4" height="10.4" fill="#000"/>
<rect x="763.15" y="1223.68" width="10.4" height="10.4" fill="#000"/>
<rect x="769.96" y="1217.26" width="10.4" height="10.4" fill="#000"/>
<rect x="776.78" y="1212.98" width="10.4" height="10.4" fill="#000"/>
<rect x="783.6" y="1208.7" width="10.4" height="10.4" fill="#000"/>
<rect x="790.41" y="1207.85" width="10.4" height="10.4" fill="#000"/>
<rect x="797.23" y="1202.29" width="10.4" height="10.4" fill="#000"/>
<rect x="804.05" y="1191.59" width="10.4" height="10.4" fill="#000"/>
<rect x="810.87" y="1191.59" width="10.4" height="10.4" fill="#000"/>
<rect x="817.68" y="1180.9" width="10.4" height="10.4" fill="#000"/>
<rect x="824.5" y="1165.07" width="10.4" height="10.4" fill="#000"/>
<rect x="831.32" y="1168.06" width="10.4" height="10.4" fill="#000"/>
<rect x="838.13" y="1163.78" width="10.4" height="10.4" fill="#000"/>
<rect x="844.95" y="1155.23" width="10.4" height="10.4" fill="#000"/>
<rect x="851.77" y="1148.81" width="10.4" height="10.4" fill="#000"/>
<rect x="858.59" y="1144.53" width="10.4" height="10.4" fill="#000"/>
<rect x="865.4" y="1129.56" width="10.4" height="10.4" fill="#000"/>
<rect x="872.22" y="1119.72" width="10.4" height="10.4" fill="#000"/>
<rect x="879.04" y="1101.75" width="10.4" height="10.4" fill="#000"/>
<rect x="885.86" y="1084.64" width="10.4" height="10.4" fill="#000"/>
<rect x="892.67" y="1067.53" width="10.4" height="10.4" fill="#000"/>
<rect x="899.49" y="1059.83" width="10.4" height="10.4" fill="#000"/>
<rect x="906.31" y="1044" width="10.4" height="10.4" fill="#000"/>
<rect x="913.12" y="1036.73" width="10.4" height="10.4" fill="#000"/>
<rect x="919.94" y="1031.16" width="10.4" height="10.4" fill="#000"/>
<rect x="926.76" y="1024.75" width="10.4" height="10.4" fill="#000"/>
<rect x="933.58" y="1021.32" width="10.4" height="10.4" fill="#000"/>
<rect x="940.39" y="1020.47" width="10.4" height="10.4" fill="#000"/>
<rect x="947.21" y="1041.86" width="10.4" height="10.4" fill="#000"/>
<rect x="954.03" y="1041.86" width="10.4" height="10.4" fill="#000"/>
<rect x="960.85" y="1070.95" width="10.4" height="10.4" fill="#000"/>
<rect x="967.66" y="1091.06" width="10.4" height="10.4" fill="#000"/>
<rect x="974.48" y="1129.56" width="10.4" height="10.4" fill="#000"/>
<rect x="981.3" y="1148.81" width="10.4" height="10.4" fill="#000"/>
<rect x="988.11" y="1170.2" width="10.4" height="10.4" fill="#000"/>
<rect x="994.93" y="1187.31" width="10.4" height="10.4" fill="#000"/>
<rect x="1001.75" y="1187.31" width="10.4" height="10.4" fill="#000"/>
<rect x="1008.57" y="1147.53" width="10.4" height="10.4" fill="#000"/>
<rect x="1015.38" y="1195.87" width="10.4" height="10.4" fill="#000"/>
<path d="M413.85 1236.71L418.85 1241.71L413.85 1246.71L408.85 1241.71Z" fill="#B2B2B2" stroke="#000" stroke-width="1.5"/>
<path d="M420.67 1229.44L425.67 1234.44L420.67 1239.44L415.67 1234.44Z" fill="#B2B2B2" stroke="#000" stroke-width="1.5"/>
<path d="M427.48 1226.02L432.48 1231.02L427.48 1236.02L422.48 1231.02Z" fill="#B2B2B2" stroke="#000" stroke-width="1.5"/>
<path d="M434.3 1233.29L439.3 1238.29L434.3 1243.29L429.3 1238.29Z" fill="#B2B2B2" stroke="#000" stroke-width="1.5"/>
<path d="M441.12 1218.74L446.12 1223.74L441.12 1228.74L436.12 1223.74Z" fill="#B2B2B2" stroke="#000" stroke-width="1.5"/>
<path d="M447.94 1243.13L452.94 1248.13L447.94 1253.13L442.94 1248.13Z" fill="#B2B2B2" stroke="#000" stroke-width="1.5"/>
<path d="M454.75 1243.13L459.75 1248.13L454.75 1253.13L449.75 1248.13Z" fill="#B2B2B2" stroke="#000" stroke-width="1.5"/>
<path d="M461.57 1245.27L466.57 1250.27L461.57 1255.27L456.57 1250.27Z" fill="#B2B2B2" stroke="#000" stroke-width="1.5"/>
<path d="M468.39 1260.24L473.39 1265.24L468.39 1270.24L463.39 1265.24Z" fill="#B2B2B2" stroke="#000" stroke-width="1.5"/>
<path d="M475.21 1239.71L480.21 1244.71L475.21 1249.71L470.21 1244.71Z" fill="#B2B2B2" stroke="#000" stroke-width="1.5"/>
<path d="M482.02 1255.96L487.02 1260.96L482.02 1265.96L477.02 1260.96Z" fill="#B2B2B2" stroke="#000" stroke-width="1.5"/>
<path d="M488.84 1262.38L493.84 1267.38L488.84 1272.38L483.84 1267.38Z" fill="#B2B2B2" stroke="#000" stroke-width="1.5"/>
<path d="M495.66 1262.38L500.66 1267.38L495.66 1272.38L490.66 1267.38Z" fill="#B2B2B2" stroke="#000" stroke-width="1.5"/>
<path d="M502.47 1265.37L507.47 1270.37L502.47 1275.37L497.47 1270.37Z" fill="#B2B2B2" stroke="#000" stroke-width="1.5"/>
<path d="M509.29 1256.82L514.29 1261.82L509.29 1266.82L504.29 1261.82Z" fill="#B2B2B2" stroke="#000" stroke-width="1.5"/>
<path d="M516.11 1264.52L521.11 1269.52L516.11 1274.52L511.11 1269.52Z" fill="#B2B2B2" stroke="#000" stroke-width="1.5"/>
<path d="M522.93 1262.38L527.93 1267.38L522.93 1272.38L517.93 1267.38Z" fill="#B2B2B2" stroke="#000" stroke-width="1.5"/>
<path d="M529.74 1265.37L534.74 1270.37L529.74 1275.37L524.74 1270.37Z" fill="#B2B2B2" stroke="#000" stroke-width="1.5"/>
<path d="M536.56 1266.66L541.56 1271.66L536.56 1276.66L531.56 1271.66Z" fill="#B2B2B2" stroke="#000" stroke-width="1.5"/>
<path d="M543.38 1264.52L548.38 1269.52L543.38 1274.52L538.38 1269.52Z" fill="#B2B2B2" stroke="#000" stroke-width="1.5"/>
<path d="M550.19 1261.1L555.19 1266.1L550.19 1271.1L545.19 1266.1Z" fill="#B2B2B2" stroke="#000" stroke-width="1.5"/>
<path d="M557.01 1265.37L562.01 1270.37L557.01 1275.37L552.01 1270.37Z" fill="#B2B2B2" stroke="#000" stroke-width="1.5"/>
<path d="M563.83 1266.66L568.83 1271.66L563.83 1276.66L558.83 1271.66Z" fill="#B2B2B2" stroke="#000" stroke-width="1.5"/>
<path d="M570.65 1268.8L575.65 1273.8L570.65 1278.8L565.65 1273.8Z" fill="#B2B2B2" stroke="#000" stroke-width="1.5"/>
<path d="M577.46 1262.38L582.46 1267.38L577.46 1272.38L572.46 1267.38Z" fill="#B2B2B2" stroke="#000" stroke-width="1.5"/>
<path d="M584.28 1259.39L589.28 1264.39L584.28 1269.39L579.28 1264.39Z" fill="#B2B2B2" stroke="#000" stroke-width="1.5"/>
<path d="M591.1 1257.25L596.1 1262.25L591.1 1267.25L586.1 1262.25Z" fill="#B2B2B2" stroke="#000" stroke-width="1.5"/>
<path d="M597.92 1262.38L602.92 1267.38L597.92 1272.38L592.92 1267.38Z" fill="#B2B2B2" stroke="#000" stroke-width="1.5"/>
<path d="M604.73 1264.52L609.73 1269.52L604.73 1274.52L599.73 1269.52Z" fill="#B2B2B2" stroke="#000" stroke-width="1.5"/>
<path d="M611.55 1262.38L616.55 1267.38L611.55 1272.38L606.55 1267.38Z" fill="#B2B2B2" stroke="#000" stroke-width="1.5"/>
<path d="M618.37 1258.1L623.37 1263.1L618.37 1268.1L613.37 1263.1Z" fill="#B2B2B2" stroke="#000" stroke-width="1.5"/>
<path d="M625.18 1258.1L630.18 1263.1L625.18 1268.1L620.18 1263.1Z" fill="#B2B2B2" stroke="#000" stroke-width="1.5"/>
<path d="M632 1258.1L637 1263.1L632 1268.1L627 1263.1Z" fill="#B2B2B2" stroke="#000" stroke-width="1.5"/>
<path d="M638.82 1260.24L643.82 1265.24L638.82 1270.24L633.82 1265.24Z" fill="#B2B2B2" stroke="#000" stroke-width="1.5"/>
<path d="M645.64 1258.1L650.64 1263.1L645.64 1268.1L640.64 1263.1Z" fill="#B2B2B2" stroke="#000" stroke-width="1.5"/>
<path d="M652.45 1260.24L657.45 1265.24L652.45 1270.24L647.45 1265.24Z" fill="#B2B2B2" stroke="#000" stroke-width="1.5"/>
<path d="M659.27 1255.96L664.27 1260.96L659.27 1265.96L654.27 1260.96Z" fill="#B2B2B2" stroke="#000" stroke-width="1.5"/>
<path d="M666.09 1255.96L671.09 1260.96L666.09 1265.96L661.09 1260.96Z" fill="#B2B2B2" stroke="#000" stroke-width="1.5"/>
<path d="M672.9 1253.82L677.9 1258.82L672.9 1263.82L667.9 1258.82Z" fill="#B2B2B2" stroke="#000" stroke-width="1.5"/>
<path d="M679.72 1250.83L684.72 1255.83L679.72 1260.83L674.72 1255.83Z" fill="#B2B2B2" stroke="#000" stroke-width="1.5"/>
<path d="M686.54 1247.41L691.54 1252.41L686.54 1257.41L681.54 1252.41Z" fill="#B2B2B2" stroke="#000" stroke-width="1.5"/>
<path d="M693.36 1240.99L698.36 1245.99L693.36 1250.99L688.36 1245.99Z" fill="#B2B2B2" stroke="#000" stroke-width="1.5"/>
<path d="M700.17 1243.13L705.17 1248.13L700.17 1253.13L695.17 1248.13Z" fill="#B2B2B2" stroke="#000" stroke-width="1.5"/>
<path d="M706.99 1242.27L711.99 1247.27L706.99 1252.27L701.99 1247.27Z" fill="#B2B2B2" stroke="#000" stroke-width="1.5"/>
<path d="M713.81 1237.99L718.81 1242.99L713.81 1247.99L708.81 1242.99Z" fill="#B2B2B2" stroke="#000" stroke-width="1.5"/>
<path d="M720.62 1238.85L725.62 1243.85L720.62 1248.85L715.62 1243.85Z" fill="#B2B2B2" stroke="#000" stroke-width="1.5"/>
<path d="M727.44 1236.71L732.44 1241.71L727.44 1246.71L722.44 1241.71Z" fill="#B2B2B2" stroke="#000" stroke-width="1.5"/>
<path d="M734.26 1226.02L739.26 1231.02L734.26 1236.02L729.26 1231.02Z" fill="#B2B2B2" stroke="#000" stroke-width="1.5"/>
<path d="M741.08 1228.16L746.08 1233.16L741.08 1238.16L736.08 1233.16Z" fill="#B2B2B2" stroke="#000" stroke-width="1.5"/>
<path d="M747.89 1225.16L752.89 1230.16L747.89 1235.16L742.89 1230.16Z" fill="#B2B2B2" stroke="#000" stroke-width="1.5"/>
<path d="M754.71 1221.74L759.71 1226.74L754.71 1231.74L749.71 1226.74Z" fill="#B2B2B2" stroke="#000" stroke-width="1.5"/>
<path d="M761.53 1217.46L766.53 1222.46L761.53 1227.46L756.53 1222.46Z" fill="#B2B2B2" stroke="#000" stroke-width="1.5"/>
<path d="M768.35 1212.33L773.35 1217.33L768.35 1222.33L763.35 1217.33Z" fill="#B2B2B2" stroke="#000" stroke-width="1.5"/>
<path d="M775.16 1208.9L780.16 1213.9L775.16 1218.9L770.16 1213.9Z" fill="#B2B2B2" stroke="#000" stroke-width="1.5"/>
<path d="M781.98 1196.07L786.98 1201.07L781.98 1206.07L776.98 1201.07Z" fill="#B2B2B2" stroke="#000" stroke-width="1.5"/>
<path d="M788.8 1202.49L793.8 1207.49L788.8 1212.49L783.8 1207.49Z" fill="#B2B2B2" stroke="#000" stroke-width="1.5"/>
<path d="M795.61 1200.35L800.61 1205.35L795.61 1210.35L790.61 1205.35Z" fill="#B2B2B2" stroke="#000" stroke-width="1.5"/>
<path d="M802.43 1199.49L807.43 1204.49L802.43 1209.49L797.43 1204.49Z" fill="#B2B2B2" stroke="#000" stroke-width="1.5"/>
<path d="M809.25 1193.93L814.25 1198.93L809.25 1203.93L804.25 1198.93Z" fill="#B2B2B2" stroke="#000" stroke-width="1.5"/>
<path d="M816.07 1190.94L821.07 1195.94L816.07 1200.94L811.07 1195.94Z" fill="#B2B2B2" stroke="#000" stroke-width="1.5"/>
<path d="M822.88 1187.51L827.88 1192.51L822.88 1197.51L817.88 1192.51Z" fill="#B2B2B2" stroke="#000" stroke-width="1.5"/>
<path d="M829.7 1183.24L834.7 1188.24L829.7 1193.24L824.7 1188.24Z" fill="#B2B2B2" stroke="#000" stroke-width="1.5"/>
<path d="M836.52 1176.82L841.52 1181.82L836.52 1186.82L831.52 1181.82Z" fill="#B2B2B2" stroke="#000" stroke-width="1.5"/>
<path d="M843.34 1176.82L848.34 1181.82L843.34 1186.82L838.34 1181.82Z" fill="#B2B2B2" stroke="#000" stroke-width="1.5"/>
<path d="M850.15 1174.25L855.15 1179.25L850.15 1184.25L845.15 1179.25Z" fill="#B2B2B2" stroke="#000" stroke-width="1.5"/>
<path d="M856.97 1166.98L861.97 1171.98L856.97 1176.98L851.97 1171.98Z" fill="#B2B2B2" stroke="#000" stroke-width="1.5"/>
<path d="M863.79 1165.27L868.79 1170.27L863.79 1175.27L858.79 1170.27Z" fill="#B2B2B2" stroke="#000" stroke-width="1.5"/>
<path d="M870.6 1165.27L875.6 1170.27L870.6 1175.27L865.6 1170.27Z" fill="#B2B2B2" stroke="#000" stroke-width="1.5"/>
<path d="M877.42 1166.12L882.42 1171.12L877.42 1176.12L872.42 1171.12Z" fill="#B2B2B2" stroke="#000" stroke-width="1.5"/>
<path d="M884.24 1168.26L889.24 1173.26L884.24 1178.26L879.24 1173.26Z" fill="#B2B2B2" stroke="#000" stroke-width="1.5"/>
<path d="M891.06 1168.26L896.06 1173.26L891.06 1178.26L886.06 1173.26Z" fill="#B2B2B2" stroke="#000" stroke-width="1.5"/>
<path d="M897.87 1168.26L902.87 1173.26L897.87 1178.26L892.87 1173.26Z" fill="#B2B2B2" stroke="#000" stroke-width="1.5"/>
<path d="M904.69 1172.11L909.69 1177.11L904.69 1182.11L899.69 1177.11Z" fill="#B2B2B2" stroke="#000" stroke-width="1.5"/>
<path d="M911.51 1173.82L916.51 1178.82L911.51 1183.82L906.51 1178.82Z" fill="#B2B2B2" stroke="#000" stroke-width="1.5"/>
<path d="M918.32 1174.68L923.32 1179.68L918.32 1184.68L913.32 1179.68Z" fill="#B2B2B2" stroke="#000" stroke-width="1.5"/>
<path d="M925.14 1173.82L930.14 1178.82L925.14 1183.82L920.14 1178.82Z" fill="#B2B2B2" stroke="#000" stroke-width="1.5"/>
<path d="M931.96 1169.55L936.96 1174.55L931.96 1179.55L926.96 1174.55Z" fill="#B2B2B2" stroke="#000" stroke-width="1.5"/>
<path d="M938.78 1165.27L943.78 1170.27L938.78 1175.27L933.78 1170.27Z" fill="#B2B2B2" stroke="#000" stroke-width="1.5"/>
<path d="M945.59 1155.43L950.59 1160.43L945.59 1165.43L940.59 1160.43Z" fill="#B2B2B2" stroke="#000" stroke-width="1.5"/>
<path d="M952.41 1142.59L957.41 1147.59L952.41 1152.59L947.41 1147.59Z" fill="#B2B2B2" stroke="#000" stroke-width="1.5"/>
<path d="M959.23 1116.93L964.23 1121.93L959.23 1126.93L954.23 1121.93Z" fill="#B2B2B2" stroke="#000" stroke-width="1.5"/>
<path d="M966.05 1092.54L971.05 1097.54L966.05 1102.54L961.05 1097.54Z" fill="#B2B2B2" stroke="#000" stroke-width="1.5"/>
<path d="M972.86 1086.98L977.86 1091.98L972.86 1096.98L967.86 1091.98Z" fill="#B2B2B2" stroke="#000" stroke-width="1.5"/>
<path d="M979.68 1157.57L984.68 1162.57L979.68 1167.57L974.68 1162.57Z" fill="#B2B2B2" stroke="#000" stroke-width="1.5"/>
<path d="M986.5 1251.68L991.5 1256.68L986.5 1261.68L981.5 1256.68Z" fill="#B2B2B2" stroke="#000" stroke-width="1.5"/>
<path d="M993.31 1268.8L998.31 1273.8L993.31 1278.8L988.31 1273.8Z" fill="#B2B2B2" stroke="#000" stroke-width="1.5"/>
<path d="M1000.13 1265.37L1005.13 1270.37L1000.13 1275.37L995.13 1270.37Z" fill="#B2B2B2" stroke="#000" stroke-width="1.5"/>
<path d="M1006.95 1262.38L1011.95 1267.38L1006.95 1272.38L1001.95 1267.38Z" fill="#B2B2B2" stroke="#000" stroke-width="1.5"/>
<path d="M1013.77 1239.71L1018.77 1244.71L1013.77 1249.71L1008.77 1244.71Z" fill="#B2B2B2" stroke="#000" stroke-width="1.5"/>
<path d="M1020.58 1277.35L1025.58 1282.35L1020.58 1287.35L1015.58 1282.35Z" fill="#B2B2B2" stroke="#000" stroke-width="1.5"/>
<path d="M1027.4 1234.57L1032.4 1239.57L1027.4 1244.57L1022.4 1239.57Z" fill="#B2B2B2" stroke="#000" stroke-width="1.5"/>
<path d="M408.75 1238.75L418.95 1248.95M408.75 1248.95L418.95 1238.75" stroke="#000" stroke-width="1.3" fill="none"/>
<path d="M415.57 1230.19L425.77 1240.39M415.57 1240.39L425.77 1230.19" stroke="#000" stroke-width="1.3" fill="none"/>
<path d="M422.38 1228.06L432.58 1238.26M422.38 1238.26L432.58 1228.06" stroke="#000" stroke-width="1.3" fill="none"/>
<path d="M429.2 1225.92L439.4 1236.12M429.2 1236.12L439.4 1225.92" stroke="#000" stroke-width="1.3" fill="none"/>
<path d="M436.02 1228.06L446.22 1238.26M436.02 1238.26L446.22 1228.06" stroke="#000" stroke-width="1.3" fill="none"/>
<path d="M442.84 1223.78L453.04 1233.98M442.84 1233.98L453.04 1223.78" stroke="#000" stroke-width="1.3" fill="none"/>
<path d="M449.65 1221.64L459.85 1231.84M449.65 1231.84L459.85 1221.64" stroke="#000" stroke-width="1.3" fill="none"/>
<path d="M456.47 1217.36L466.67 1227.56M456.47 1227.56L466.67 1217.36" stroke="#000" stroke-width="1.3" fill="none"/>
<path d="M463.29 1212.23L473.49 1222.43M463.29 1222.43L473.49 1212.23" stroke="#000" stroke-width="1.3" fill="none"/>
<path d="M470.11 1225.06L480.31 1235.26M470.11 1235.26L480.31 1225.06" stroke="#000" stroke-width="1.3" fill="none"/>
<path d="M476.92 1245.17L487.12 1255.37M476.92 1255.37L487.12 1245.17" stroke="#000" stroke-width="1.3" fill="none"/>
<path d="M483.74 1243.03L493.94 1253.23M483.74 1253.23L493.94 1243.03" stroke="#000" stroke-width="1.3" fill="none"/>
<path d="M490.56 1242.17L500.76 1252.37M490.56 1252.37L500.76 1242.17" stroke="#000" stroke-width="1.3" fill="none"/>
<path d="M497.37 1247.31L507.57 1257.51M497.37 1257.51L507.57 1247.31" stroke="#000" stroke-width="1.3" fill="none"/>
<path d="M504.19 1251.58L514.39 1261.78M504.19 1261.78L514.39 1251.58" stroke="#000" stroke-width="1.3" fill="none"/>
<path d="M511.01 1251.58L521.21 1261.78M511.01 1261.78L521.21 1251.58" stroke="#000" stroke-width="1.3" fill="none"/>
<path d="M517.83 1248.16L528.03 1258.36M517.83 1258.36L528.03 1248.16" stroke="#000" stroke-width="1.3" fill="none"/>
<path d="M524.64 1255.86L534.84 1266.06M524.64 1266.06L534.84 1255.86" stroke="#000" stroke-width="1.3" fill="none"/>
<path d="M531.46 1262.28L541.66 1272.48M531.46 1272.48L541.66 1262.28" stroke="#000" stroke-width="1.3" fill="none"/>
<path d="M538.28 1266.56L548.48 1276.76M538.28 1276.76L548.48 1266.56" stroke="#000" stroke-width="1.3" fill="none"/>
<path d="M545.09 1262.28L555.29 1272.48M545.09 1272.48L555.29 1262.28" stroke="#000" stroke-width="1.3" fill="none"/>
<path d="M551.91 1253.72L562.11 1263.92M551.91 1263.92L562.11 1253.72" stroke="#000" stroke-width="1.3" fill="none"/>
<path d="M558.73 1251.58L568.93 1261.78M558.73 1261.78L568.93 1251.58" stroke="#000" stroke-width="1.3" fill="none"/>
<path d="M565.55 1264.42L575.75 1274.62M565.55 1274.62L575.75 1264.42" stroke="#000" stroke-width="1.3" fill="none"/>
<path d="M572.36 1265.27L582.56 1275.47M572.36 1275.47L582.56 1265.27" stroke="#000" stroke-width="1.3" fill="none"/>
<path d="M579.18 1264.42L589.38 1274.62M579.18 1274.62L589.38 1264.42" stroke="#000" stroke-width="1.3" fill="none"/>
<path d="M586 1262.28L596.2 1272.48M586 1272.48L596.2 1262.28" stroke="#000" stroke-width="1.3" fill="none"/>
<path d="M592.82 1262.28L603.02 1272.48M592.82 1272.48L603.02 1262.28" stroke="#000" stroke-width="1.3" fill="none"/>
<path d="M599.63 1260.14L609.83 1270.34M599.63 1270.34L609.83 1260.14" stroke="#000" stroke-width="1.3" fill="none"/>
<path d="M606.45 1262.28L616.65 1272.48M606.45 1272.48L616.65 1262.28" stroke="#000" stroke-width="1.3" fill="none"/>
<path d="M613.27 1262.28L623.47 1272.48M613.27 1272.48L623.47 1262.28" stroke="#000" stroke-width="1.3" fill="none"/>
<path d="M620.08 1260.14L630.28 1270.34M620.08 1270.34L630.28 1260.14" stroke="#000" stroke-width="1.3" fill="none"/>
<path d="M626.9 1262.28L637.1 1272.48M626.9 1272.48L637.1 1262.28" stroke="#000" stroke-width="1.3" fill="none"/>
<path d="M633.72 1260.14L643.92 1270.34M633.72 1270.34L643.92 1260.14" stroke="#000" stroke-width="1.3" fill="none"/>
<path d="M640.54 1262.28L650.74 1272.48M640.54 1272.48L650.74 1262.28" stroke="#000" stroke-width="1.3" fill="none"/>
<path d="M647.35 1260.14L657.55 1270.34M647.35 1270.34L657.55 1260.14" stroke="#000" stroke-width="1.3" fill="none"/>
<path d="M654.17 1259.29L664.37 1269.49M654.17 1269.49L664.37 1259.29" stroke="#000" stroke-width="1.3" fill="none"/>
<path d="M660.99 1262.28L671.19 1272.48M660.99 1272.48L671.19 1262.28" stroke="#000" stroke-width="1.3" fill="none"/>
<path d="M667.8 1260.14L678 1270.34M667.8 1270.34L678 1260.14" stroke="#000" stroke-width="1.3" fill="none"/>
<path d="M674.62 1260.14L684.82 1270.34M674.62 1270.34L684.82 1260.14" stroke="#000" stroke-width="1.3" fill="none"/>
<path d="M681.44 1260.14L691.64 1270.34M681.44 1270.34L691.64 1260.14" stroke="#000" stroke-width="1.3" fill="none"/>
<path d="M688.26 1260.14L698.46 1270.34M688.26 1270.34L698.46 1260.14" stroke="#000" stroke-width="1.3" fill="none"/>
<path d="M695.07 1258L705.27 1268.2M695.07 1268.2L705.27 1258" stroke="#000" stroke-width="1.3" fill="none"/>
<path d="M701.89 1255.86L712.09 1266.06M701.89 1266.06L712.09 1255.86" stroke="#000" stroke-width="1.3" fill="none"/>
<path d="M708.71 1257.15L718.91 1267.35M708.71 1267.35L718.91 1257.15" stroke="#000" stroke-width="1.3" fill="none"/>
<path d="M715.52 1258L725.73 1268.2M715.52 1268.2L725.73 1258" stroke="#000" stroke-width="1.3" fill="none"/>
<path d="M722.34 1258.43L732.54 1268.63M722.34 1268.63L732.54 1258.43" stroke="#000" stroke-width="1.3" fill="none"/>
<path d="M729.16 1255.43L739.36 1265.63M729.16 1265.63L739.36 1255.43" stroke="#000" stroke-width="1.3" fill="none"/>
<path d="M735.98 1252.44L746.18 1262.64M735.98 1262.64L746.18 1252.44" stroke="#000" stroke-width="1.3" fill="none"/>
<path d="M742.79 1253.3L752.99 1263.5M742.79 1263.5L752.99 1253.3" stroke="#000" stroke-width="1.3" fill="none"/>
<path d="M749.61 1254.58L759.81 1264.78M749.61 1264.78L759.81 1254.58" stroke="#000" stroke-width="1.3" fill="none"/>
<path d="M756.43 1252.44L766.63 1262.64M756.43 1262.64L766.63 1252.44" stroke="#000" stroke-width="1.3" fill="none"/>
<path d="M763.25 1250.73L773.45 1260.93M763.25 1260.93L773.45 1250.73" stroke="#000" stroke-width="1.3" fill="none"/>
<path d="M770.06 1250.73L780.26 1260.93M770.06 1260.93L780.26 1250.73" stroke="#000" stroke-width="1.3" fill="none"/>
<path d="M776.88 1250.73L787.08 1260.93M776.88 1260.93L787.08 1250.73" stroke="#000" stroke-width="1.3" fill="none"/>
<path d="M783.7 1243.46L793.9 1253.66M783.7 1253.66L793.9 1243.46" stroke="#000" stroke-width="1.3" fill="none"/>
<path d="M790.51 1239.61L800.71 1249.81M790.51 1249.81L800.71 1239.61" stroke="#000" stroke-width="1.3" fill="none"/>
<path d="M797.33 1240.03L807.53 1250.23M797.33 1250.23L807.53 1240.03" stroke="#000" stroke-width="1.3" fill="none"/>
<path d="M804.15 1211.8L814.35 1222M804.15 1222L814.35 1211.8" stroke="#000" stroke-width="1.3" fill="none"/>
<path d="M810.97 1228.06L821.17 1238.26M810.97 1238.26L821.17 1228.06" stroke="#000" stroke-width="1.3" fill="none"/>
<path d="M817.78 1231.05L827.98 1241.25M817.78 1241.25L827.98 1231.05" stroke="#000" stroke-width="1.3" fill="none"/>
<path d="M824.6 1230.19L834.8 1240.39M824.6 1240.39L834.8 1230.19" stroke="#000" stroke-width="1.3" fill="none"/>
<path d="M831.42 1228.06L841.62 1238.26M831.42 1238.26L841.62 1228.06" stroke="#000" stroke-width="1.3" fill="none"/>
<path d="M838.24 1225.92L848.44 1236.12M838.24 1236.12L848.44 1225.92" stroke="#000" stroke-width="1.3" fill="none"/>
<path d="M845.05 1223.78L855.25 1233.98M845.05 1233.98L855.25 1223.78" stroke="#000" stroke-width="1.3" fill="none"/>
<path d="M851.87 1215.22L862.07 1225.42M851.87 1225.42L862.07 1215.22" stroke="#000" stroke-width="1.3" fill="none"/>
<path d="M858.69 1210.94L868.89 1221.14M858.69 1221.14L868.89 1210.94" stroke="#000" stroke-width="1.3" fill="none"/>
<path d="M865.5 1207.95L875.7 1218.15M865.5 1218.15L875.7 1207.95" stroke="#000" stroke-width="1.3" fill="none"/>
<path d="M872.32 1207.52L882.52 1217.72M872.32 1217.72L882.52 1207.52" stroke="#000" stroke-width="1.3" fill="none"/>
<path d="M879.14 1200.25L889.34 1210.45M879.14 1210.45L889.34 1200.25" stroke="#000" stroke-width="1.3" fill="none"/>
<path d="M885.96 1189.55L896.16 1199.75M885.96 1199.75L896.16 1189.55" stroke="#000" stroke-width="1.3" fill="none"/>
<path d="M892.77 1187.41L902.97 1197.61M892.77 1197.61L902.97 1187.41" stroke="#000" stroke-width="1.3" fill="none"/>
<path d="M899.59 1185.27L909.79 1195.47M899.59 1195.47L909.79 1185.27" stroke="#000" stroke-width="1.3" fill="none"/>
<path d="M906.41 1178.86L916.61 1189.06M906.41 1189.06L916.61 1178.86" stroke="#000" stroke-width="1.3" fill="none"/>
<path d="M913.22 1174.58L923.42 1184.78M913.22 1184.78L923.42 1174.58" stroke="#000" stroke-width="1.3" fill="none"/>
<path d="M920.04 1172.44L930.24 1182.64M920.04 1182.64L930.24 1172.44" stroke="#000" stroke-width="1.3" fill="none"/>
<path d="M926.86 1168.16L937.06 1178.36M926.86 1178.36L937.06 1168.16" stroke="#000" stroke-width="1.3" fill="none"/>
<path d="M933.68 1166.02L943.88 1176.22M933.68 1176.22L943.88 1166.02" stroke="#000" stroke-width="1.3" fill="none"/>
<path d="M940.49 1168.16L950.69 1178.36M940.49 1178.36L950.69 1168.16" stroke="#000" stroke-width="1.3" fill="none"/>
<path d="M947.31 1159.61L957.51 1169.81M947.31 1169.81L957.51 1159.61" stroke="#000" stroke-width="1.3" fill="none"/>
<path d="M954.13 1157.47L964.33 1167.67M954.13 1167.67L964.33 1157.47" stroke="#000" stroke-width="1.3" fill="none"/>
<path d="M960.95 1136.08L971.15 1146.28M960.95 1146.28L971.15 1136.08" stroke="#000" stroke-width="1.3" fill="none"/>
<path d="M967.76 1136.08L977.96 1146.28M967.76 1146.28L977.96 1136.08" stroke="#000" stroke-width="1.3" fill="none"/>
<path d="M974.58 1133.94L984.78 1144.14M974.58 1144.14L984.78 1133.94" stroke="#000" stroke-width="1.3" fill="none"/>
<path d="M981.4 1112.55L991.6 1122.75M981.4 1122.75L991.6 1112.55" stroke="#000" stroke-width="1.3" fill="none"/>
<path d="M988.21 1159.61L998.41 1169.81M988.21 1169.81L998.41 1159.61" stroke="#000" stroke-width="1.3" fill="none"/>
<path d="M995.03 1221.64L1005.23 1231.84M995.03 1231.84L1005.23 1221.64" stroke="#000" stroke-width="1.3" fill="none"/>
<path d="M1001.85 1272.12L1012.05 1282.32M1001.85 1282.32L1012.05 1272.12" stroke="#000" stroke-width="1.3" fill="none"/>
<path d="M1008.67 1245.17L1018.87 1255.37M1008.67 1255.37L1018.87 1245.17" stroke="#000" stroke-width="1.3" fill="none"/>
<path d="M1015.48 1247.31L1025.68 1257.51M1015.48 1257.51L1025.68 1247.31" stroke="#000" stroke-width="1.3" fill="none"/>
<circle cx="413.85" cy="1242.99" r="4.95" fill="#fff" stroke="#000" stroke-width="1.5"/>
<circle cx="420.67" cy="1241.71" r="4.95" fill="#fff" stroke="#000" stroke-width="1.5"/>
<circle cx="427.48" cy="1254.55" r="4.95" fill="#fff" stroke="#000" stroke-width="1.5"/>
<circle cx="434.3" cy="1266.1" r="4.95" fill="#fff" stroke="#000" stroke-width="1.5"/>
<circle cx="441.12" cy="1265.24" r="4.95" fill="#fff" stroke="#000" stroke-width="1.5"/>
<circle cx="447.94" cy="1269.52" r="4.95" fill="#fff" stroke="#000" stroke-width="1.5"/>
<circle cx="454.75" cy="1277.22" r="4.95" fill="#fff" stroke="#000" stroke-width="1.5"/>
<circle cx="461.57" cy="1275.08" r="4.95" fill="#fff" stroke="#000" stroke-width="1.5"/>
<circle cx="468.39" cy="1262.67" r="4.95" fill="#fff" stroke="#000" stroke-width="1.5"/>
<circle cx="475.21" cy="1260.96" r="4.95" fill="#fff" stroke="#000" stroke-width="1.5"/>
<circle cx="482.02" cy="1255.83" r="4.95" fill="#fff" stroke="#000" stroke-width="1.5"/>
<circle cx="488.84" cy="1252.41" r="4.95" fill="#fff" stroke="#000" stroke-width="1.5"/>
<circle cx="495.66" cy="1254.55" r="4.95" fill="#fff" stroke="#000" stroke-width="1.5"/>
<circle cx="502.47" cy="1260.11" r="4.95" fill="#fff" stroke="#000" stroke-width="1.5"/>
<circle cx="509.29" cy="1260.11" r="4.95" fill="#fff" stroke="#000" stroke-width="1.5"/>
<circle cx="516.11" cy="1258.82" r="4.95" fill="#fff" stroke="#000" stroke-width="1.5"/>
<circle cx="522.93" cy="1256.68" r="4.95" fill="#fff" stroke="#000" stroke-width="1.5"/>
<circle cx="529.74" cy="1263.1" r="4.95" fill="#fff" stroke="#000" stroke-width="1.5"/>
<circle cx="536.56" cy="1267.38" r="4.95" fill="#fff" stroke="#000" stroke-width="1.5"/>
<circle cx="543.38" cy="1263.1" r="4.95" fill="#fff" stroke="#000" stroke-width="1.5"/>
<circle cx="550.19" cy="1245.99" r="4.95" fill="#fff" stroke="#000" stroke-width="1.5"/>
<circle cx="557.01" cy="1260.96" r="4.95" fill="#fff" stroke="#000" stroke-width="1.5"/>
<circle cx="563.83" cy="1270.37" r="4.95" fill="#fff" stroke="#000" stroke-width="1.5"/>
<circle cx="570.65" cy="1268.66" r="4.95" fill="#fff" stroke="#000" stroke-width="1.5"/>
<circle cx="577.46" cy="1270.8" r="4.95" fill="#fff" stroke="#000" stroke-width="1.5"/>
<circle cx="584.28" cy="1269.52" r="4.95" fill="#fff" stroke="#000" stroke-width="1.5"/>
<circle cx="591.1" cy="1268.66" r="4.95" fill="#fff" stroke="#000" stroke-width="1.5"/>
<circle cx="597.92" cy="1275.94" r="4.95" fill="#fff" stroke="#000" stroke-width="1.5"/>
<circle cx="604.73" cy="1278.07" r="4.95" fill="#fff" stroke="#000" stroke-width="1.5"/>
<circle cx="611.55" cy="1278.93" r="4.95" fill="#fff" stroke="#000" stroke-width="1.5"/>
<circle cx="618.37" cy="1278.07" r="4.95" fill="#fff" stroke="#000" stroke-width="1.5"/>
<circle cx="625.18" cy="1272.94" r="4.95" fill="#fff" stroke="#000" stroke-width="1.5"/>
<circle cx="632" cy="1278.07" r="4.95" fill="#fff" stroke="#000" stroke-width="1.5"/>
<circle cx="638.82" cy="1278.07" r="4.95" fill="#fff" stroke="#000" stroke-width="1.5"/>
<circle cx="645.64" cy="1278.07" r="4.95" fill="#fff" stroke="#000" stroke-width="1.5"/>
<circle cx="652.45" cy="1281.5" r="4.95" fill="#fff" stroke="#000" stroke-width="1.5"/>
<circle cx="659.27" cy="1275.94" r="4.95" fill="#fff" stroke="#000" stroke-width="1.5"/>
<circle cx="666.09" cy="1280.21" r="4.95" fill="#fff" stroke="#000" stroke-width="1.5"/>
<circle cx="672.9" cy="1284.49" r="4.95" fill="#fff" stroke="#000" stroke-width="1.5"/>
<circle cx="679.72" cy="1273.8" r="4.95" fill="#fff" stroke="#000" stroke-width="1.5"/>
<circle cx="686.54" cy="1286.63" r="4.95" fill="#fff" stroke="#000" stroke-width="1.5"/>
<circle cx="693.36" cy="1287.49" r="4.95" fill="#fff" stroke="#000" stroke-width="1.5"/>
<circle cx="700.17" cy="1288.77" r="4.95" fill="#fff" stroke="#000" stroke-width="1.5"/>
<circle cx="706.99" cy="1288.77" r="4.95" fill="#fff" stroke="#000" stroke-width="1.5"/>
<circle cx="713.81" cy="1290.91" r="4.95" fill="#fff" stroke="#000" stroke-width="1.5"/>
<circle cx="720.62" cy="1290.05" r="4.95" fill="#fff" stroke="#000" stroke-width="1.5"/>
<circle cx="727.44" cy="1284.49" r="4.95" fill="#fff" stroke="#000" stroke-width="1.5"/>
<circle cx="734.26" cy="1289.63" r="4.95" fill="#fff" stroke="#000" stroke-width="1.5"/>
<circle cx="741.08" cy="1287.91" r="4.95" fill="#fff" stroke="#000" stroke-width="1.5"/>
<circle cx="747.89" cy="1297.33" r="4.95" fill="#fff" stroke="#000" stroke-width="1.5"/>
<circle cx="754.71" cy="1297.33" r="4.95" fill="#fff" stroke="#000" stroke-width="1.5"/>
<circle cx="761.53" cy="1294.33" r="4.95" fill="#fff" stroke="#000" stroke-width="1.5"/>
<circle cx="768.35" cy="1300.75" r="4.95" fill="#fff" stroke="#000" stroke-width="1.5"/>
<circle cx="775.16" cy="1303.74" r="4.95" fill="#fff" stroke="#000" stroke-width="1.5"/>
<circle cx="781.98" cy="1305.88" r="4.95" fill="#fff" stroke="#000" stroke-width="1.5"/>
<circle cx="788.8" cy="1305.88" r="4.95" fill="#fff" stroke="#000" stroke-width="1.5"/>
<circle cx="795.61" cy="1307.17" r="4.95" fill="#fff" stroke="#000" stroke-width="1.5"/>
<circle cx="802.43" cy="1305.03" r="4.95" fill="#fff" stroke="#000" stroke-width="1.5"/>
<circle cx="809.25" cy="1311.44" r="4.95" fill="#fff" stroke="#000" stroke-width="1.5"/>
<circle cx="816.07" cy="1314.44" r="4.95" fill="#fff" stroke="#000" stroke-width="1.5"/>
<circle cx="822.88" cy="1313.58" r="4.95" fill="#fff" stroke="#000" stroke-width="1.5"/>
<circle cx="829.7" cy="1316.58" r="4.95" fill="#fff" stroke="#000" stroke-width="1.5"/>
<circle cx="836.52" cy="1318.72" r="4.95" fill="#fff" stroke="#000" stroke-width="1.5"/>
<circle cx="843.34" cy="1320" r="4.95" fill="#fff" stroke="#000" stroke-width="1.5"/>
<circle cx="850.15" cy="1320.86" r="4.95" fill="#fff" stroke="#000" stroke-width="1.5"/>
<circle cx="856.97" cy="1322.14" r="4.95" fill="#fff" stroke="#000" stroke-width="1.5"/>
<circle cx="863.79" cy="1322.99" r="4.95" fill="#fff" stroke="#000" stroke-width="1.5"/>
<circle cx="870.6" cy="1322.99" r="4.95" fill="#fff" stroke="#000" stroke-width="1.5"/>
<circle cx="877.42" cy="1323.85" r="4.95" fill="#fff" stroke="#000" stroke-width="1.5"/>
<circle cx="884.24" cy="1323.85" r="4.95" fill="#fff" stroke="#000" stroke-width="1.5"/>
<circle cx="891.06" cy="1323.85" r="4.95" fill="#fff" stroke="#000" stroke-width="1.5"/>
<circle cx="897.87" cy="1325.13" r="4.95" fill="#fff" stroke="#000" stroke-width="1.5"/>
<circle cx="904.69" cy="1325.13" r="4.95" fill="#fff" stroke="#000" stroke-width="1.5"/>
<circle cx="911.51" cy="1323.85" r="4.95" fill="#fff" stroke="#000" stroke-width="1.5"/>
<circle cx="918.32" cy="1322.99" r="4.95" fill="#fff" stroke="#000" stroke-width="1.5"/>
<circle cx="925.14" cy="1321.71" r="4.95" fill="#fff" stroke="#000" stroke-width="1.5"/>
<circle cx="931.96" cy="1317.43" r="4.95" fill="#fff" stroke="#000" stroke-width="1.5"/>
<circle cx="938.78" cy="1314.44" r="4.95" fill="#fff" stroke="#000" stroke-width="1.5"/>
<circle cx="945.59" cy="1308.02" r="4.95" fill="#fff" stroke="#000" stroke-width="1.5"/>
<circle cx="952.41" cy="1303.74" r="4.95" fill="#fff" stroke="#000" stroke-width="1.5"/>
<circle cx="959.23" cy="1299.47" r="4.95" fill="#fff" stroke="#000" stroke-width="1.5"/>
<circle cx="966.05" cy="1295.19" r="4.95" fill="#fff" stroke="#000" stroke-width="1.5"/>
<circle cx="972.86" cy="1293.05" r="4.95" fill="#fff" stroke="#000" stroke-width="1.5"/>
<circle cx="979.68" cy="1295.19" r="4.95" fill="#fff" stroke="#000" stroke-width="1.5"/>
<circle cx="986.5" cy="1295.19" r="4.95" fill="#fff" stroke="#000" stroke-width="1.5"/>
<circle cx="993.31" cy="1297.33" r="4.95" fill="#fff" stroke="#000" stroke-width="1.5"/>
<circle cx="1000.13" cy="1299.47" r="4.95" fill="#fff" stroke="#000" stroke-width="1.5"/>
<circle cx="1006.95" cy="1301.6" r="4.95" fill="#fff" stroke="#000" stroke-width="1.5"/>
<circle cx="1013.77" cy="1299.47" r="4.95" fill="#fff" stroke="#000" stroke-width="1.5"/>
<circle cx="1020.58" cy="1316.58" r="4.95" fill="#fff" stroke="#000" stroke-width="1.5"/>
<circle cx="1027.4" cy="1288.77" r="4.95" fill="#fff" stroke="#000" stroke-width="1.5"/>
<rect x="433.7" y="1033.1" width="176.4" height="116.7" fill="#fff" stroke="#000" stroke-width="1.6"/>
<rect x="477.3" y="1042.3" width="11" height="11" fill="#000"/>
<path d="M482.8 1072.1L487.9 1077.2L482.8 1082.3L477.7 1077.2Z" fill="#B2B2B2" stroke="#000" stroke-width="1.4"/>
<path d="M477.5 1100.5L487.9 1110.9M477.5 1110.9L487.9 1100.5" stroke="#000" stroke-width="1.3" fill="none"/>
<circle cx="482.7" cy="1134.5" r="5.45" fill="#fff" stroke="#000" stroke-width="1.4"/>
<text x="494.8" y="1054.6" font-family="Liberation Sans, sans-serif" font-weight="bold" font-size="19.6" textLength="53.8" lengthAdjust="spacingAndGlyphs">North</text>
<text x="494.8" y="1083.6" font-family="Liberation Sans, sans-serif" font-weight="bold" font-size="19.6" textLength="53.6" lengthAdjust="spacingAndGlyphs">South</text>
<text x="494.8" y="1112.5" font-family="Liberation Sans, sans-serif" font-weight="bold" font-size="19.6" textLength="73.1" lengthAdjust="spacingAndGlyphs">Average</text>
<text x="494.8" y="1141.4" font-family="Liberation Sans, sans-serif" font-weight="bold" font-size="19.6" textLength="46.5" lengthAdjust="spacingAndGlyphs">West</text>
<text x="628.5" y="1425" font-family="Liberation Sans, sans-serif" font-weight="bold" font-size="25.5" textLength="182" lengthAdjust="spacingAndGlyphs">Zenith angle [°]</text>
<text transform="translate(367.3,1326.7) rotate(-90)" font-family="Liberation Sans, sans-serif" font-weight="bold" font-size="27.5" textLength="292" lengthAdjust="spacingAndGlyphs">Cloud attenuation factor</text>
<text x="336" y="1429.2" font-family="Liberation Sans, sans-serif" font-size="30">e)</text>
</svg></body></html>
